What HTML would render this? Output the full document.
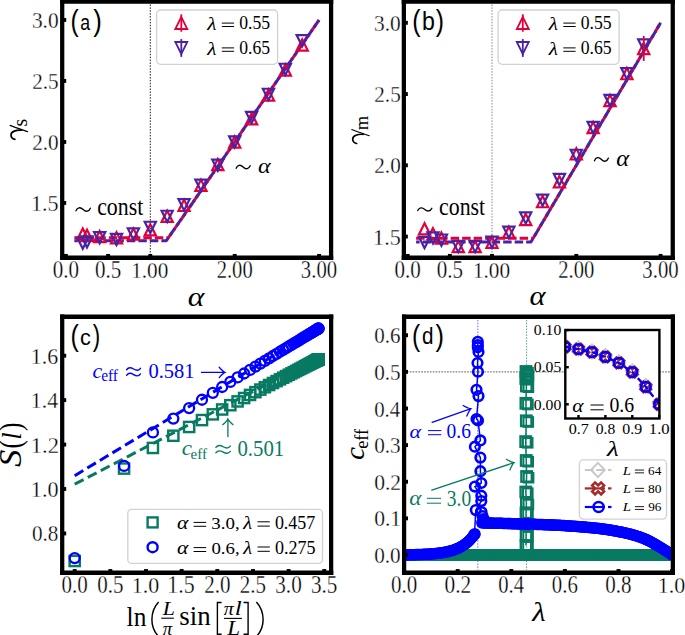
<!DOCTYPE html>
<html><head><meta charset="utf-8"><style>
html,body{margin:0;padding:0;background:#fff;width:685px;height:635px;overflow:hidden}
svg{display:block}
</style></head><body>
<svg width="685" height="635" viewBox="0 0 685 635">
<rect width="685" height="635" fill="#fff"/>
<line x1="150.30" y1="1.55" x2="150.30" y2="257.65" stroke="#000" stroke-width="0.9" stroke-dasharray="1.5,1.4" />
<polyline points="74.34,237.72 168.45,237.72 319.10,19.95" fill="none" stroke="#e3003a" stroke-width="3.0" stroke-dasharray="8.5,3" stroke-linejoin="round" />
<polyline points="74.34,240.77 166.34,240.77 319.10,19.95" fill="none" stroke="#4a22a5" stroke-width="3.0" stroke-dasharray="8.5,3" stroke-linejoin="round" stroke-dashoffset="5"/>
<polygon points="82.78,228.46 77.18,239.66 88.38,239.66" fill="none" stroke="#e3003a" stroke-width="2.2"/>
<polygon points="87.00,229.68 81.40,240.88 92.60,240.88" fill="none" stroke="#e3003a" stroke-width="2.2"/>
<polygon points="99.66,230.90 94.06,242.10 105.26,242.10" fill="none" stroke="#e3003a" stroke-width="2.2"/>
<polygon points="116.54,232.12 110.94,243.32 122.14,243.32" fill="none" stroke="#e3003a" stroke-width="2.2"/>
<polygon points="133.42,228.46 127.82,239.66 139.02,239.66" fill="none" stroke="#e3003a" stroke-width="2.2"/>
<polygon points="150.30,224.19 144.70,235.39 155.90,235.39" fill="none" stroke="#e3003a" stroke-width="2.2"/>
<polygon points="167.18,210.77 161.58,221.97 172.78,221.97" fill="none" stroke="#e3003a" stroke-width="2.2"/>
<polygon points="184.06,199.79 178.46,210.99 189.66,210.99" fill="none" stroke="#e3003a" stroke-width="2.2"/>
<polygon points="200.94,179.66 195.34,190.86 206.54,190.86" fill="none" stroke="#e3003a" stroke-width="2.2"/>
<polygon points="217.82,158.92 212.22,170.12 223.42,170.12" fill="none" stroke="#e3003a" stroke-width="2.2"/>
<polygon points="234.70,136.35 229.10,147.55 240.30,147.55" fill="none" stroke="#e3003a" stroke-width="2.2"/>
<polygon points="251.58,113.17 245.98,124.37 257.18,124.37" fill="none" stroke="#e3003a" stroke-width="2.2"/>
<polygon points="268.46,89.38 262.86,100.58 274.06,100.58" fill="none" stroke="#e3003a" stroke-width="2.2"/>
<polygon points="285.34,64.37 279.74,75.57 290.94,75.57" fill="none" stroke="#e3003a" stroke-width="2.2"/>
<polygon points="302.22,39.36 296.62,50.56 307.82,50.56" fill="none" stroke="#e3003a" stroke-width="2.2"/>
<polygon points="82.78,248.81 77.18,237.61 88.38,237.61" fill="none" stroke="#4a22a5" stroke-width="2.2"/>
<polygon points="87.00,247.59 81.40,236.39 92.60,236.39" fill="none" stroke="#4a22a5" stroke-width="2.2"/>
<polygon points="99.66,243.32 94.06,232.12 105.26,232.12" fill="none" stroke="#4a22a5" stroke-width="2.2"/>
<polygon points="116.54,245.15 110.94,233.95 122.14,233.95" fill="none" stroke="#4a22a5" stroke-width="2.2"/>
<polygon points="133.42,239.66 127.82,228.46 139.02,228.46" fill="none" stroke="#4a22a5" stroke-width="2.2"/>
<polygon points="150.30,232.95 144.70,221.75 155.90,221.75" fill="none" stroke="#4a22a5" stroke-width="2.2"/>
<polygon points="167.18,221.97 161.58,210.77 172.78,210.77" fill="none" stroke="#4a22a5" stroke-width="2.2"/>
<polygon points="184.06,210.38 178.46,199.18 189.66,199.18" fill="none" stroke="#4a22a5" stroke-width="2.2"/>
<polygon points="200.94,190.86 195.34,179.66 206.54,179.66" fill="none" stroke="#4a22a5" stroke-width="2.2"/>
<polygon points="217.82,170.73 212.22,159.53 223.42,159.53" fill="none" stroke="#4a22a5" stroke-width="2.2"/>
<polygon points="234.70,147.55 229.10,136.35 240.30,136.35" fill="none" stroke="#4a22a5" stroke-width="2.2"/>
<polygon points="251.58,123.15 245.98,111.95 257.18,111.95" fill="none" stroke="#4a22a5" stroke-width="2.2"/>
<polygon points="268.46,99.97 262.86,88.77 274.06,88.77" fill="none" stroke="#4a22a5" stroke-width="2.2"/>
<polygon points="285.34,74.96 279.74,63.76 290.94,63.76" fill="none" stroke="#4a22a5" stroke-width="2.2"/>
<polygon points="302.22,46.29 296.62,35.09 307.82,35.09" fill="none" stroke="#4a22a5" stroke-width="2.2"/>
<path d="M60.08,1.55 H333.23 M60.08,257.65 H333.23" stroke="#000" stroke-width="4.55" fill="none"/>
<path d="M62.20,-0.72 V259.92 M331.10,-0.72 V259.92" stroke="#000" stroke-width="4.25" fill="none"/>
<line x1="62.20" y1="202.95" x2="66.20" y2="202.95" stroke="#000" stroke-width="3.9" />
<line x1="62.20" y1="141.95" x2="66.20" y2="141.95" stroke="#000" stroke-width="3.9" />
<line x1="62.20" y1="80.95" x2="66.20" y2="80.95" stroke="#000" stroke-width="3.9" />
<line x1="62.20" y1="19.95" x2="66.20" y2="19.95" stroke="#000" stroke-width="3.9" />
<line x1="65.90" y1="257.65" x2="65.90" y2="253.95" stroke="#000" stroke-width="3.9" />
<line x1="108.10" y1="257.65" x2="108.10" y2="253.95" stroke="#000" stroke-width="3.9" />
<line x1="150.30" y1="257.65" x2="150.30" y2="253.95" stroke="#000" stroke-width="3.9" />
<line x1="234.70" y1="257.65" x2="234.70" y2="253.95" stroke="#000" stroke-width="3.9" />
<line x1="319.10" y1="257.65" x2="319.10" y2="253.95" stroke="#000" stroke-width="3.9" />
<text transform="translate(31.01 211.22) scale(0.9449 1)" font-family="'Liberation Serif', serif" font-size="23.43" fill="#000" style="" stroke="#fff" stroke-width="0.3">1.5</text>
<text transform="translate(32.15 149.98) scale(0.9046 1)" font-family="'Liberation Serif', serif" font-size="23.43" fill="#000" style="" stroke="#fff" stroke-width="0.3">2.0</text>
<text transform="translate(32.15 89.21) scale(0.8911 1)" font-family="'Liberation Serif', serif" font-size="23.79" fill="#000" style="" stroke="#fff" stroke-width="0.3">2.5</text>
<text transform="translate(31.93 27.98) scale(0.9124 1)" font-family="'Liberation Serif', serif" font-size="23.43" fill="#000" style="" stroke="#fff" stroke-width="0.3">3.0</text>
<text transform="translate(52.76 277.82) scale(0.8696 1)" font-family="'Liberation Serif', serif" font-size="24.18" fill="#000" style="" stroke="#fff" stroke-width="0.3">0.0</text>
<text transform="translate(94.96 277.82) scale(0.8696 1)" font-family="'Liberation Serif', serif" font-size="24.18" fill="#000" style="" stroke="#fff" stroke-width="0.3">0.5</text>
<text transform="translate(131.19 277.82) scale(0.8913 1)" font-family="'Liberation Serif', serif" font-size="23.82" fill="#000" style="" stroke="#fff" stroke-width="0.3">1.00</text>
<text transform="translate(216.68 277.82) scale(0.8519 1)" font-family="'Liberation Serif', serif" font-size="24.18" fill="#000" style="" stroke="#fff" stroke-width="0.3">2.00</text>
<text transform="translate(300.86 277.82) scale(0.8571 1)" font-family="'Liberation Serif', serif" font-size="24.18" fill="#000" style="" stroke="#fff" stroke-width="0.3">3.00</text>
<rect x="156.60" y="10.00" width="121.00" height="54.30" rx="4" ry="4" fill="#fff" fill-opacity="0.85" stroke="#d2d2d2" stroke-width="1.35"/>
<line x1="181.30" y1="14.30" x2="181.30" y2="31.70" stroke="#e3003a" stroke-width="1.8" />
<polygon points="181.30,17.00 175.30,29.00 187.30,29.00" fill="none" stroke="#e3003a" stroke-width="1.8"/>
<line x1="181.30" y1="39.10" x2="181.30" y2="56.90" stroke="#4a22a5" stroke-width="1.8" />
<polygon points="181.30,54.00 175.30,42.00 187.30,42.00" fill="none" stroke="#4a22a5" stroke-width="1.8"/>
<text transform="translate(207.32 29.80) scale(1.1223 1)" font-family="'Liberation Serif', serif" font-size="18.86" fill="#000" style="font-style:italic;" >λ</text>
<line x1="221.80" y1="23.10" x2="234.10" y2="23.10" stroke="#000" stroke-width="1.0" />
<line x1="221.80" y1="26.50" x2="234.10" y2="26.50" stroke="#000" stroke-width="1.0" />
<text transform="translate(239.29 29.34) scale(0.9701 1)" font-family="'Liberation Serif', serif" font-size="18.21" fill="#000" style="" >0.55</text>
<text transform="translate(207.32 54.60) scale(1.1223 1)" font-family="'Liberation Serif', serif" font-size="18.86" fill="#000" style="font-style:italic;" >λ</text>
<line x1="221.80" y1="47.90" x2="234.10" y2="47.90" stroke="#000" stroke-width="1.0" />
<line x1="221.80" y1="51.30" x2="234.10" y2="51.30" stroke="#000" stroke-width="1.0" />
<text transform="translate(239.29 54.14) scale(0.9701 1)" font-family="'Liberation Serif', serif" font-size="18.21" fill="#000" style="" >0.65</text>
<text transform="translate(70.52 30.75) scale(0.8538 1)" font-family="'Liberation Sans', sans-serif" font-size="28.83" fill="#000" style="" >(</text>
<text transform="translate(80.19 29.58) scale(0.7911 1)" font-family="'Liberation Sans', sans-serif" font-size="22.36" fill="#000" style="" >a</text>
<text transform="translate(93.14 30.75) scale(0.8938 1)" font-family="'Liberation Sans', sans-serif" font-size="28.83" fill="#000" style="" >)</text>
<path d="M75.95,210.81 C77.39,207.35 80.27,206.68 83.15,209.50 S88.91,211.65 90.35,208.19" fill="none" stroke="#000" stroke-width="1.3" stroke-linecap="round"/>
<text transform="translate(97.13 215.15) scale(0.8894 1)" font-family="'Liberation Serif', serif" font-size="24.56" fill="#000" style="" >const</text>
<path d="M236.15,168.31 C237.55,164.85 240.35,164.18 243.15,167.00 S248.75,169.15 250.15,165.69" fill="none" stroke="#000" stroke-width="1.3" stroke-linecap="round"/>
<text transform="translate(257.98 172.79) scale(1.1239 1)" font-family="'Liberation Serif', serif" font-size="21.46" fill="#000" style="font-style:italic;" >α</text>
<text transform="translate(187.85 305.52) scale(1.1294 1)" font-family="'Liberation Serif', serif" font-size="28.12" fill="#000" style="font-style:italic;" >α</text>
<path d="M10.10,125.40 C15.00,127.30 21.00,129.60 27.50,131.60" fill="none" stroke="#000" stroke-width="1.15" stroke-linecap="round"/>
<path d="M21.50,130.20 C16.00,129.90 11.20,131.50 11.00,134.80 C10.90,137.20 12.80,138.90 14.90,139.40" fill="none" stroke="#000" stroke-width="1.7" stroke-linecap="round"/>
<text transform="translate(26.90 126.59) rotate(-90) scale(0.9839 1)" font-family="'Liberation Serif', serif" font-size="20.00" fill="#000" style="" >s</text>
<line x1="492.00" y1="1.55" x2="492.00" y2="257.65" stroke="#7a7a7a" stroke-width="0.9" stroke-dasharray="1.5,1.4" />
<polyline points="416.13,238.26 533.14,238.26 660.60,22.80" fill="none" stroke="#e3003a" stroke-width="3.0" stroke-dasharray="8.5,3" stroke-linejoin="round" />
<polyline points="416.13,241.97 530.95,241.97 660.60,22.80" fill="none" stroke="#4a22a5" stroke-width="3.0" stroke-dasharray="8.5,3" stroke-linejoin="round" stroke-dashoffset="5"/>
<polygon points="424.56,223.26 418.96,234.46 430.16,234.46" fill="none" stroke="#e3003a" stroke-width="2.2"/>
<polygon points="432.99,228.10 427.39,239.30 438.59,239.30" fill="none" stroke="#e3003a" stroke-width="2.2"/>
<polygon points="441.42,232.38 435.82,243.58 447.02,243.58" fill="none" stroke="#e3003a" stroke-width="2.2"/>
<polygon points="458.28,240.93 452.68,252.13 463.88,252.13" fill="none" stroke="#e3003a" stroke-width="2.2"/>
<polygon points="475.14,240.93 469.54,252.13 480.74,252.13" fill="none" stroke="#e3003a" stroke-width="2.2"/>
<polygon points="492.00,236.65 486.40,247.85 497.60,247.85" fill="none" stroke="#e3003a" stroke-width="2.2"/>
<polygon points="508.86,226.68 503.26,237.88 514.46,237.88" fill="none" stroke="#e3003a" stroke-width="2.2"/>
<polygon points="525.72,213.85 520.12,225.05 531.32,225.05" fill="none" stroke="#e3003a" stroke-width="2.2"/>
<polygon points="542.58,196.04 536.98,207.24 548.18,207.24" fill="none" stroke="#e3003a" stroke-width="2.2"/>
<polygon points="559.44,176.09 553.84,187.29 565.04,187.29" fill="none" stroke="#e3003a" stroke-width="2.2"/>
<polygon points="576.30,148.30 570.70,159.50 581.90,159.50" fill="none" stroke="#e3003a" stroke-width="2.2"/>
<polygon points="593.16,121.94 587.56,133.14 598.76,133.14" fill="none" stroke="#e3003a" stroke-width="2.2"/>
<polygon points="610.02,94.86 604.42,106.06 615.62,106.06" fill="none" stroke="#e3003a" stroke-width="2.2"/>
<polygon points="626.88,68.07 621.28,79.27 632.48,79.27" fill="none" stroke="#e3003a" stroke-width="2.2"/>
<polygon points="643.74,42.85 638.14,54.05 649.34,54.05" fill="none" stroke="#e3003a" stroke-width="2.2"/>
<polygon points="424.56,248.14 418.96,236.94 430.16,236.94" fill="none" stroke="#4a22a5" stroke-width="2.2"/>
<polygon points="432.99,243.58 427.39,232.38 438.59,232.38" fill="none" stroke="#4a22a5" stroke-width="2.2"/>
<polygon points="441.42,245.71 435.82,234.51 447.02,234.51" fill="none" stroke="#4a22a5" stroke-width="2.2"/>
<polygon points="458.28,252.13 452.68,240.93 463.88,240.93" fill="none" stroke="#4a22a5" stroke-width="2.2"/>
<polygon points="475.14,252.13 469.54,240.93 480.74,240.93" fill="none" stroke="#4a22a5" stroke-width="2.2"/>
<polygon points="492.00,247.85 486.40,236.65 497.60,236.65" fill="none" stroke="#4a22a5" stroke-width="2.2"/>
<polygon points="508.86,237.88 503.26,226.68 514.46,226.68" fill="none" stroke="#4a22a5" stroke-width="2.2"/>
<polygon points="525.72,223.63 520.12,212.43 531.32,212.43" fill="none" stroke="#4a22a5" stroke-width="2.2"/>
<polygon points="542.58,205.81 536.98,194.61 548.18,194.61" fill="none" stroke="#4a22a5" stroke-width="2.2"/>
<polygon points="559.44,185.15 553.84,173.95 565.04,173.95" fill="none" stroke="#4a22a5" stroke-width="2.2"/>
<polygon points="576.30,160.93 570.70,149.73 581.90,149.73" fill="none" stroke="#4a22a5" stroke-width="2.2"/>
<polygon points="593.16,133.14 587.56,121.94 598.76,121.94" fill="none" stroke="#4a22a5" stroke-width="2.2"/>
<polygon points="610.02,106.06 604.42,94.86 615.62,94.86" fill="none" stroke="#4a22a5" stroke-width="2.2"/>
<polygon points="626.88,79.27 621.28,68.07 632.48,68.07" fill="none" stroke="#4a22a5" stroke-width="2.2"/>
<polygon points="643.74,50.49 638.14,39.29 649.34,39.29" fill="none" stroke="#4a22a5" stroke-width="2.2"/>
<path d="M401.73,1.55 H674.88 M401.73,257.65 H674.88" stroke="#000" stroke-width="4.55" fill="none"/>
<path d="M403.85,-0.72 V259.92 M672.75,-0.72 V259.92" stroke="#000" stroke-width="4.25" fill="none"/>
<line x1="403.85" y1="236.55" x2="407.85" y2="236.55" stroke="#000" stroke-width="3.9" />
<line x1="403.85" y1="165.30" x2="407.85" y2="165.30" stroke="#000" stroke-width="3.9" />
<line x1="403.85" y1="94.05" x2="407.85" y2="94.05" stroke="#000" stroke-width="3.9" />
<line x1="403.85" y1="22.80" x2="407.85" y2="22.80" stroke="#000" stroke-width="3.9" />
<line x1="407.70" y1="257.65" x2="407.70" y2="253.95" stroke="#000" stroke-width="3.9" />
<line x1="449.85" y1="257.65" x2="449.85" y2="253.95" stroke="#000" stroke-width="3.9" />
<line x1="492.00" y1="257.65" x2="492.00" y2="253.95" stroke="#000" stroke-width="3.9" />
<line x1="576.30" y1="257.65" x2="576.30" y2="253.95" stroke="#000" stroke-width="3.9" />
<line x1="660.60" y1="257.65" x2="660.60" y2="253.95" stroke="#000" stroke-width="3.9" />
<line x1="643.74" y1="35.95" x2="643.74" y2="60.95" stroke="#e3003a" stroke-width="1.8" />
<text transform="translate(373.11 244.82) scale(0.9449 1)" font-family="'Liberation Serif', serif" font-size="23.43" fill="#000" style="" stroke="#fff" stroke-width="0.3">1.5</text>
<text transform="translate(374.25 173.33) scale(0.9046 1)" font-family="'Liberation Serif', serif" font-size="23.43" fill="#000" style="" stroke="#fff" stroke-width="0.3">2.0</text>
<text transform="translate(374.25 102.31) scale(0.8911 1)" font-family="'Liberation Serif', serif" font-size="23.79" fill="#000" style="" stroke="#fff" stroke-width="0.3">2.5</text>
<text transform="translate(374.03 30.83) scale(0.9124 1)" font-family="'Liberation Serif', serif" font-size="23.43" fill="#000" style="" stroke="#fff" stroke-width="0.3">3.0</text>
<text transform="translate(394.56 277.82) scale(0.8696 1)" font-family="'Liberation Serif', serif" font-size="24.18" fill="#000" style="" stroke="#fff" stroke-width="0.3">0.0</text>
<text transform="translate(436.71 277.82) scale(0.8696 1)" font-family="'Liberation Serif', serif" font-size="24.18" fill="#000" style="" stroke="#fff" stroke-width="0.3">0.5</text>
<text transform="translate(472.89 277.82) scale(0.8913 1)" font-family="'Liberation Serif', serif" font-size="23.82" fill="#000" style="" stroke="#fff" stroke-width="0.3">1.00</text>
<text transform="translate(558.28 277.82) scale(0.8519 1)" font-family="'Liberation Serif', serif" font-size="24.18" fill="#000" style="" stroke="#fff" stroke-width="0.3">2.00</text>
<text transform="translate(642.36 277.82) scale(0.8571 1)" font-family="'Liberation Serif', serif" font-size="24.18" fill="#000" style="" stroke="#fff" stroke-width="0.3">3.00</text>
<rect x="498.10" y="10.00" width="121.00" height="54.30" rx="4" ry="4" fill="#fff" fill-opacity="0.85" stroke="#d2d2d2" stroke-width="1.35"/>
<line x1="522.80" y1="14.30" x2="522.80" y2="31.70" stroke="#e3003a" stroke-width="1.8" />
<polygon points="522.80,17.00 516.80,29.00 528.80,29.00" fill="none" stroke="#e3003a" stroke-width="1.8"/>
<line x1="522.80" y1="39.10" x2="522.80" y2="56.90" stroke="#4a22a5" stroke-width="1.8" />
<polygon points="522.80,54.00 516.80,42.00 528.80,42.00" fill="none" stroke="#4a22a5" stroke-width="1.8"/>
<text transform="translate(548.82 29.80) scale(1.1223 1)" font-family="'Liberation Serif', serif" font-size="18.86" fill="#000" style="font-style:italic;" >λ</text>
<line x1="563.30" y1="23.10" x2="575.60" y2="23.10" stroke="#000" stroke-width="1.0" />
<line x1="563.30" y1="26.50" x2="575.60" y2="26.50" stroke="#000" stroke-width="1.0" />
<text transform="translate(580.79 29.34) scale(0.9701 1)" font-family="'Liberation Serif', serif" font-size="18.21" fill="#000" style="" >0.55</text>
<text transform="translate(548.82 54.60) scale(1.1223 1)" font-family="'Liberation Serif', serif" font-size="18.86" fill="#000" style="font-style:italic;" >λ</text>
<line x1="563.30" y1="47.90" x2="575.60" y2="47.90" stroke="#000" stroke-width="1.0" />
<line x1="563.30" y1="51.30" x2="575.60" y2="51.30" stroke="#000" stroke-width="1.0" />
<text transform="translate(580.79 54.14) scale(0.9701 1)" font-family="'Liberation Serif', serif" font-size="18.21" fill="#000" style="" >0.65</text>
<text transform="translate(412.30 30.75) scale(0.8672 1)" font-family="'Liberation Sans', sans-serif" font-size="28.83" fill="#000" style="" >(</text>
<text transform="translate(421.88 29.80) scale(0.9050 1)" font-family="'Liberation Sans', sans-serif" font-size="25.62" fill="#000" style="" >b</text>
<text transform="translate(435.75 30.75) scale(0.8538 1)" font-family="'Liberation Sans', sans-serif" font-size="28.83" fill="#000" style="" >)</text>
<path d="M417.75,210.57 C419.16,207.45 421.98,206.83 424.80,209.40 S430.44,211.35 431.85,208.23" fill="none" stroke="#000" stroke-width="1.3" stroke-linecap="round"/>
<text transform="translate(439.03 214.85) scale(0.8894 1)" font-family="'Liberation Serif', serif" font-size="24.56" fill="#000" style="" >const</text>
<path d="M594.45,160.80 C595.85,157.25 598.65,156.57 601.45,159.45 S607.05,161.65 608.45,158.10" fill="none" stroke="#000" stroke-width="1.3" stroke-linecap="round"/>
<text transform="translate(616.36 165.78) scale(1.1099 1)" font-family="'Liberation Serif', serif" font-size="22.08" fill="#000" style="font-style:italic;" >α</text>
<text transform="translate(529.38 304.63) scale(1.1382 1)" font-family="'Liberation Serif', serif" font-size="26.87" fill="#000" style="font-style:italic;" >α</text>
<path d="M351.80,129.50 C356.70,131.40 362.70,133.70 369.20,135.70" fill="none" stroke="#000" stroke-width="1.15" stroke-linecap="round"/>
<path d="M363.20,134.30 C357.70,134.00 352.90,135.60 352.70,138.90 C352.60,141.30 354.50,143.00 356.60,143.50" fill="none" stroke="#000" stroke-width="1.7" stroke-linecap="round"/>
<text transform="translate(368.00 130.17) rotate(-90) scale(0.9960 1)" font-family="'Liberation Serif', serif" font-size="18.72" fill="#000" style="" >m</text>
<line x1="74.70" y1="475.67" x2="319.26" y2="328.07" stroke="#0000ff" stroke-width="3.0" stroke-dasharray="10,4.7" />
<line x1="74.70" y1="484.20" x2="319.26" y2="356.92" stroke="#087a62" stroke-width="3.0" stroke-dasharray="10,4.7" />
<rect x="69.59" y="555.89" width="10.20" height="10.20" fill="none" stroke="#087a62" stroke-width="2.4"/>
<rect x="118.97" y="463.46" width="10.20" height="10.20" fill="none" stroke="#087a62" stroke-width="2.4"/>
<rect x="147.82" y="442.84" width="10.20" height="10.20" fill="none" stroke="#087a62" stroke-width="2.4"/>
<rect x="168.24" y="430.66" width="10.20" height="10.20" fill="none" stroke="#087a62" stroke-width="2.4"/>
<rect x="184.03" y="421.87" width="10.20" height="10.20" fill="none" stroke="#087a62" stroke-width="2.4"/>
<rect x="196.89" y="414.97" width="10.20" height="10.20" fill="none" stroke="#087a62" stroke-width="2.4"/>
<rect x="207.72" y="409.26" width="10.20" height="10.20" fill="none" stroke="#087a62" stroke-width="2.4"/>
<rect x="217.05" y="404.38" width="10.20" height="10.20" fill="none" stroke="#087a62" stroke-width="2.4"/>
<rect x="225.23" y="400.11" width="10.20" height="10.20" fill="none" stroke="#087a62" stroke-width="2.4"/>
<rect x="232.50" y="396.32" width="10.20" height="10.20" fill="none" stroke="#087a62" stroke-width="2.4"/>
<rect x="239.02" y="392.93" width="10.20" height="10.20" fill="none" stroke="#087a62" stroke-width="2.4"/>
<rect x="244.93" y="389.85" width="10.20" height="10.20" fill="none" stroke="#087a62" stroke-width="2.4"/>
<rect x="250.32" y="387.05" width="10.20" height="10.20" fill="none" stroke="#087a62" stroke-width="2.4"/>
<rect x="255.25" y="384.48" width="10.20" height="10.20" fill="none" stroke="#087a62" stroke-width="2.4"/>
<rect x="259.80" y="382.11" width="10.20" height="10.20" fill="none" stroke="#087a62" stroke-width="2.4"/>
<rect x="264.00" y="379.93" width="10.20" height="10.20" fill="none" stroke="#087a62" stroke-width="2.4"/>
<rect x="267.89" y="377.90" width="10.20" height="10.20" fill="none" stroke="#087a62" stroke-width="2.4"/>
<rect x="271.51" y="376.02" width="10.20" height="10.20" fill="none" stroke="#087a62" stroke-width="2.4"/>
<rect x="274.88" y="374.26" width="10.20" height="10.20" fill="none" stroke="#087a62" stroke-width="2.4"/>
<rect x="278.03" y="372.62" width="10.20" height="10.20" fill="none" stroke="#087a62" stroke-width="2.4"/>
<rect x="280.97" y="371.09" width="10.20" height="10.20" fill="none" stroke="#087a62" stroke-width="2.4"/>
<rect x="283.72" y="369.66" width="10.20" height="10.20" fill="none" stroke="#087a62" stroke-width="2.4"/>
<rect x="286.30" y="368.32" width="10.20" height="10.20" fill="none" stroke="#087a62" stroke-width="2.4"/>
<rect x="288.71" y="367.07" width="10.20" height="10.20" fill="none" stroke="#087a62" stroke-width="2.4"/>
<rect x="290.97" y="365.89" width="10.20" height="10.20" fill="none" stroke="#087a62" stroke-width="2.4"/>
<rect x="293.08" y="364.79" width="10.20" height="10.20" fill="none" stroke="#087a62" stroke-width="2.4"/>
<rect x="295.06" y="363.76" width="10.20" height="10.20" fill="none" stroke="#087a62" stroke-width="2.4"/>
<rect x="296.91" y="362.80" width="10.20" height="10.20" fill="none" stroke="#087a62" stroke-width="2.4"/>
<rect x="298.64" y="361.90" width="10.20" height="10.20" fill="none" stroke="#087a62" stroke-width="2.4"/>
<rect x="300.26" y="361.06" width="10.20" height="10.20" fill="none" stroke="#087a62" stroke-width="2.4"/>
<rect x="301.76" y="360.27" width="10.20" height="10.20" fill="none" stroke="#087a62" stroke-width="2.4"/>
<rect x="303.16" y="359.54" width="10.20" height="10.20" fill="none" stroke="#087a62" stroke-width="2.4"/>
<rect x="304.46" y="358.87" width="10.20" height="10.20" fill="none" stroke="#087a62" stroke-width="2.4"/>
<rect x="305.66" y="358.25" width="10.20" height="10.20" fill="none" stroke="#087a62" stroke-width="2.4"/>
<rect x="306.76" y="357.67" width="10.20" height="10.20" fill="none" stroke="#087a62" stroke-width="2.4"/>
<rect x="307.77" y="357.15" width="10.20" height="10.20" fill="none" stroke="#087a62" stroke-width="2.4"/>
<rect x="308.70" y="356.67" width="10.20" height="10.20" fill="none" stroke="#087a62" stroke-width="2.4"/>
<rect x="309.53" y="356.23" width="10.20" height="10.20" fill="none" stroke="#087a62" stroke-width="2.4"/>
<rect x="310.28" y="355.84" width="10.20" height="10.20" fill="none" stroke="#087a62" stroke-width="2.4"/>
<rect x="310.95" y="355.49" width="10.20" height="10.20" fill="none" stroke="#087a62" stroke-width="2.4"/>
<rect x="311.53" y="355.19" width="10.20" height="10.20" fill="none" stroke="#087a62" stroke-width="2.4"/>
<rect x="312.04" y="354.93" width="10.20" height="10.20" fill="none" stroke="#087a62" stroke-width="2.4"/>
<rect x="312.46" y="354.71" width="10.20" height="10.20" fill="none" stroke="#087a62" stroke-width="2.4"/>
<rect x="312.81" y="354.53" width="10.20" height="10.20" fill="none" stroke="#087a62" stroke-width="2.4"/>
<rect x="313.07" y="354.39" width="10.20" height="10.20" fill="none" stroke="#087a62" stroke-width="2.4"/>
<rect x="313.27" y="354.29" width="10.20" height="10.20" fill="none" stroke="#087a62" stroke-width="2.4"/>
<rect x="313.38" y="354.23" width="10.20" height="10.20" fill="none" stroke="#087a62" stroke-width="2.4"/>
<rect x="313.42" y="354.21" width="10.20" height="10.20" fill="none" stroke="#087a62" stroke-width="2.4"/>
<circle cx="74.69" cy="558.10" r="5.0" fill="none" stroke="#0000ff" stroke-width="2.3"/>
<circle cx="124.07" cy="465.89" r="5.0" fill="none" stroke="#0000ff" stroke-width="2.3"/>
<circle cx="152.92" cy="432.46" r="5.0" fill="none" stroke="#0000ff" stroke-width="2.3"/>
<circle cx="173.34" cy="418.56" r="5.0" fill="none" stroke="#0000ff" stroke-width="2.3"/>
<circle cx="189.13" cy="408.07" r="5.0" fill="none" stroke="#0000ff" stroke-width="2.3"/>
<circle cx="201.99" cy="399.73" r="5.0" fill="none" stroke="#0000ff" stroke-width="2.3"/>
<circle cx="212.82" cy="392.85" r="5.0" fill="none" stroke="#0000ff" stroke-width="2.3"/>
<circle cx="222.15" cy="387.00" r="5.0" fill="none" stroke="#0000ff" stroke-width="2.3"/>
<circle cx="230.33" cy="381.94" r="5.0" fill="none" stroke="#0000ff" stroke-width="2.3"/>
<circle cx="237.60" cy="377.47" r="5.0" fill="none" stroke="#0000ff" stroke-width="2.3"/>
<circle cx="244.12" cy="373.49" r="5.0" fill="none" stroke="#0000ff" stroke-width="2.3"/>
<circle cx="250.03" cy="369.89" r="5.0" fill="none" stroke="#0000ff" stroke-width="2.3"/>
<circle cx="255.42" cy="366.62" r="5.0" fill="none" stroke="#0000ff" stroke-width="2.3"/>
<circle cx="260.35" cy="363.63" r="5.0" fill="none" stroke="#0000ff" stroke-width="2.3"/>
<circle cx="264.90" cy="360.89" r="5.0" fill="none" stroke="#0000ff" stroke-width="2.3"/>
<circle cx="269.10" cy="358.35" r="5.0" fill="none" stroke="#0000ff" stroke-width="2.3"/>
<circle cx="272.99" cy="355.99" r="5.0" fill="none" stroke="#0000ff" stroke-width="2.3"/>
<circle cx="276.61" cy="353.81" r="5.0" fill="none" stroke="#0000ff" stroke-width="2.3"/>
<circle cx="279.98" cy="351.77" r="5.0" fill="none" stroke="#0000ff" stroke-width="2.3"/>
<circle cx="283.13" cy="349.87" r="5.0" fill="none" stroke="#0000ff" stroke-width="2.3"/>
<circle cx="286.07" cy="348.10" r="5.0" fill="none" stroke="#0000ff" stroke-width="2.3"/>
<circle cx="288.82" cy="346.44" r="5.0" fill="none" stroke="#0000ff" stroke-width="2.3"/>
<circle cx="291.40" cy="344.88" r="5.0" fill="none" stroke="#0000ff" stroke-width="2.3"/>
<circle cx="293.81" cy="343.43" r="5.0" fill="none" stroke="#0000ff" stroke-width="2.3"/>
<circle cx="296.07" cy="342.06" r="5.0" fill="none" stroke="#0000ff" stroke-width="2.3"/>
<circle cx="298.18" cy="340.79" r="5.0" fill="none" stroke="#0000ff" stroke-width="2.3"/>
<circle cx="300.16" cy="339.59" r="5.0" fill="none" stroke="#0000ff" stroke-width="2.3"/>
<circle cx="302.01" cy="338.47" r="5.0" fill="none" stroke="#0000ff" stroke-width="2.3"/>
<circle cx="303.74" cy="337.43" r="5.0" fill="none" stroke="#0000ff" stroke-width="2.3"/>
<circle cx="305.36" cy="336.45" r="5.0" fill="none" stroke="#0000ff" stroke-width="2.3"/>
<circle cx="306.86" cy="335.55" r="5.0" fill="none" stroke="#0000ff" stroke-width="2.3"/>
<circle cx="308.26" cy="334.70" r="5.0" fill="none" stroke="#0000ff" stroke-width="2.3"/>
<circle cx="309.56" cy="333.92" r="5.0" fill="none" stroke="#0000ff" stroke-width="2.3"/>
<circle cx="310.76" cy="333.20" r="5.0" fill="none" stroke="#0000ff" stroke-width="2.3"/>
<circle cx="311.86" cy="332.53" r="5.0" fill="none" stroke="#0000ff" stroke-width="2.3"/>
<circle cx="312.87" cy="331.92" r="5.0" fill="none" stroke="#0000ff" stroke-width="2.3"/>
<circle cx="313.80" cy="331.36" r="5.0" fill="none" stroke="#0000ff" stroke-width="2.3"/>
<circle cx="314.63" cy="330.86" r="5.0" fill="none" stroke="#0000ff" stroke-width="2.3"/>
<circle cx="315.38" cy="330.41" r="5.0" fill="none" stroke="#0000ff" stroke-width="2.3"/>
<circle cx="316.05" cy="330.00" r="5.0" fill="none" stroke="#0000ff" stroke-width="2.3"/>
<circle cx="316.63" cy="329.65" r="5.0" fill="none" stroke="#0000ff" stroke-width="2.3"/>
<circle cx="317.14" cy="329.35" r="5.0" fill="none" stroke="#0000ff" stroke-width="2.3"/>
<circle cx="317.56" cy="329.09" r="5.0" fill="none" stroke="#0000ff" stroke-width="2.3"/>
<circle cx="317.91" cy="328.88" r="5.0" fill="none" stroke="#0000ff" stroke-width="2.3"/>
<circle cx="318.17" cy="328.72" r="5.0" fill="none" stroke="#0000ff" stroke-width="2.3"/>
<circle cx="318.37" cy="328.60" r="5.0" fill="none" stroke="#0000ff" stroke-width="2.3"/>
<circle cx="318.48" cy="328.54" r="5.0" fill="none" stroke="#0000ff" stroke-width="2.3"/>
<circle cx="318.52" cy="328.51" r="5.0" fill="none" stroke="#0000ff" stroke-width="2.3"/>
<path d="M60.08,316.75 H333.27 M60.08,572.75 H333.27" stroke="#000" stroke-width="4.55" fill="none"/>
<path d="M62.20,314.48 V575.02 M331.15,314.48 V575.02" stroke="#000" stroke-width="4.25" fill="none"/>
<line x1="62.20" y1="533.44" x2="66.20" y2="533.44" stroke="#000" stroke-width="3.9" />
<line x1="62.20" y1="489.00" x2="66.20" y2="489.00" stroke="#000" stroke-width="3.9" />
<line x1="62.20" y1="444.56" x2="66.20" y2="444.56" stroke="#000" stroke-width="3.9" />
<line x1="62.20" y1="400.12" x2="66.20" y2="400.12" stroke="#000" stroke-width="3.9" />
<line x1="62.20" y1="355.68" x2="66.20" y2="355.68" stroke="#000" stroke-width="3.9" />
<line x1="74.70" y1="572.75" x2="74.70" y2="569.05" stroke="#000" stroke-width="3.9" />
<line x1="110.35" y1="572.75" x2="110.35" y2="569.05" stroke="#000" stroke-width="3.9" />
<line x1="146.00" y1="572.75" x2="146.00" y2="569.05" stroke="#000" stroke-width="3.9" />
<line x1="181.65" y1="572.75" x2="181.65" y2="569.05" stroke="#000" stroke-width="3.9" />
<line x1="217.30" y1="572.75" x2="217.30" y2="569.05" stroke="#000" stroke-width="3.9" />
<line x1="252.95" y1="572.75" x2="252.95" y2="569.05" stroke="#000" stroke-width="3.9" />
<line x1="288.60" y1="572.75" x2="288.60" y2="569.05" stroke="#000" stroke-width="3.9" />
<line x1="324.25" y1="572.75" x2="324.25" y2="569.05" stroke="#000" stroke-width="3.9" />
<text transform="translate(31.95 541.47) scale(0.9046 1)" font-family="'Liberation Serif', serif" font-size="23.43" fill="#000" style="" stroke="#fff" stroke-width="0.3">0.8</text>
<text transform="translate(30.81 497.04) scale(0.9591 1)" font-family="'Liberation Serif', serif" font-size="23.09" fill="#000" style="" stroke="#fff" stroke-width="0.3">1.0</text>
<text transform="translate(30.77 452.83) scale(0.9621 1)" font-family="'Liberation Serif', serif" font-size="23.43" fill="#000" style="" stroke="#fff" stroke-width="0.3">1.2</text>
<text transform="translate(30.84 408.39) scale(0.9284 1)" font-family="'Liberation Serif', serif" font-size="23.43" fill="#000" style="" stroke="#fff" stroke-width="0.3">1.4</text>
<text transform="translate(30.82 363.72) scale(0.9506 1)" font-family="'Liberation Serif', serif" font-size="23.09" fill="#000" style="" stroke="#fff" stroke-width="0.3">1.6</text>
<text transform="translate(61.56 593.01) scale(0.8590 1)" font-family="'Liberation Serif', serif" font-size="24.48" fill="#000" style="" stroke="#fff" stroke-width="0.3">0.0</text>
<text transform="translate(97.21 593.01) scale(0.8590 1)" font-family="'Liberation Serif', serif" font-size="24.48" fill="#000" style="" stroke="#fff" stroke-width="0.3">0.5</text>
<text transform="translate(131.72 593.02) scale(0.9107 1)" font-family="'Liberation Serif', serif" font-size="24.12" fill="#000" style="" stroke="#fff" stroke-width="0.3">1.0</text>
<text transform="translate(167.37 593.26) scale(0.8973 1)" font-family="'Liberation Serif', serif" font-size="24.48" fill="#000" style="" stroke="#fff" stroke-width="0.3">1.5</text>
<text transform="translate(204.16 593.01) scale(0.8590 1)" font-family="'Liberation Serif', serif" font-size="24.48" fill="#000" style="" stroke="#fff" stroke-width="0.3">2.0</text>
<text transform="translate(239.81 593.25) scale(0.8462 1)" font-family="'Liberation Serif', serif" font-size="24.85" fill="#000" style="" stroke="#fff" stroke-width="0.3">2.5</text>
<text transform="translate(275.24 593.01) scale(0.8664 1)" font-family="'Liberation Serif', serif" font-size="24.48" fill="#000" style="" stroke="#fff" stroke-width="0.3">3.0</text>
<text transform="translate(310.89 593.25) scale(0.8534 1)" font-family="'Liberation Serif', serif" font-size="24.85" fill="#000" style="" stroke="#fff" stroke-width="0.3">3.5</text>
<text transform="translate(70.60 345.75) scale(0.8672 1)" font-family="'Liberation Sans', sans-serif" font-size="28.83" fill="#000" style="" >(</text>
<text transform="translate(80.03 344.88) scale(0.9671 1)" font-family="'Liberation Sans', sans-serif" font-size="22.36" fill="#000" style="" >c</text>
<text transform="translate(92.68 345.75) scale(0.7738 1)" font-family="'Liberation Sans', sans-serif" font-size="28.83" fill="#000" style="" >)</text>
<rect x="127.80" y="509.40" width="194.70" height="54.00" rx="4" ry="4" fill="#fff" fill-opacity="0.85" stroke="#d2d2d2" stroke-width="1.35"/>
<rect x="147.60" y="517.40" width="10.00" height="10.00" fill="none" stroke="#087a62" stroke-width="2.4"/>
<circle cx="152.60" cy="547.20" r="5.0" fill="none" stroke="#0000ff" stroke-width="2.4"/>
<text transform="translate(177.05 528.82) scale(1.1765 1)" font-family="'Liberation Serif', serif" font-size="18.33" fill="#000" style="font-style:italic;" >α</text>
<line x1="193.60" y1="522.40" x2="206.20" y2="522.40" stroke="#000" stroke-width="1.0" />
<line x1="193.60" y1="526.30" x2="206.20" y2="526.30" stroke="#000" stroke-width="1.0" />
<text transform="translate(211.25 529.04) scale(1.0660 1)" font-family="'Liberation Serif', serif" font-size="17.75" fill="#000" style="" >3.0,</text>
<text transform="translate(243.31 528.90) scale(1.1192 1)" font-family="'Liberation Serif', serif" font-size="18.29" fill="#000" style="font-style:italic;" >λ</text>
<line x1="257.50" y1="521.80" x2="269.80" y2="521.80" stroke="#000" stroke-width="1.0" />
<line x1="257.50" y1="526.10" x2="269.80" y2="526.10" stroke="#000" stroke-width="1.0" />
<text transform="translate(274.88 528.92) scale(0.9562 1)" font-family="'Liberation Serif', serif" font-size="18.81" fill="#000" style="" >0.457</text>
<text transform="translate(177.05 554.02) scale(1.1765 1)" font-family="'Liberation Serif', serif" font-size="18.33" fill="#000" style="font-style:italic;" >α</text>
<line x1="193.60" y1="547.60" x2="206.20" y2="547.60" stroke="#000" stroke-width="1.0" />
<line x1="193.60" y1="551.50" x2="206.20" y2="551.50" stroke="#000" stroke-width="1.0" />
<text transform="translate(211.45 554.24) scale(1.0584 1)" font-family="'Liberation Serif', serif" font-size="17.75" fill="#000" style="" >0.6,</text>
<text transform="translate(243.31 554.10) scale(1.1192 1)" font-family="'Liberation Serif', serif" font-size="18.29" fill="#000" style="font-style:italic;" >λ</text>
<line x1="257.50" y1="547.00" x2="269.80" y2="547.00" stroke="#000" stroke-width="1.0" />
<line x1="257.50" y1="551.30" x2="269.80" y2="551.30" stroke="#000" stroke-width="1.0" />
<text transform="translate(274.88 554.12) scale(0.9606 1)" font-family="'Liberation Serif', serif" font-size="18.81" fill="#000" style="" >0.275</text>
<text transform="translate(92.45 378.18) scale(0.9943 1)" font-family="'Liberation Serif', serif" font-size="21.88" fill="#0000ff" style="font-style:italic;" >c</text>
<text transform="translate(101.18 381.34) scale(0.9744 1)" font-family="'Liberation Serif', serif" font-size="15.83" fill="#0000ff" style="" >eff</text>
<path d="M126.60,369.73 C127.99,367.70 130.77,367.22 133.55,369.02 S139.11,370.33 140.50,368.30" fill="none" stroke="#0000ff" stroke-width="1.4" stroke-linecap="round"/>
<path d="M126.60,375.30 C127.99,373.27 130.77,372.78 133.55,374.58 S139.11,375.90 140.50,373.87" fill="none" stroke="#0000ff" stroke-width="1.4" stroke-linecap="round"/>
<text transform="translate(148.48 377.58) scale(0.9754 1)" font-family="'Liberation Serif', serif" font-size="21.03" fill="#0000ff" style="" >0.581</text>
<path d="M201.50,372.40 L225.00,372.40 M219.22,377.56 Q223.07,373.22 225.00,372.40 Q223.07,371.57 219.22,367.24" fill="none" stroke="#0000ff" stroke-width="1.3" stroke-linecap="round"/>
<text transform="translate(181.71 455.48) scale(1.0514 1)" font-family="'Liberation Serif', serif" font-size="21.88" fill="#087a62" style="font-style:italic;" >c</text>
<text transform="translate(190.50 458.65) scale(0.9849 1)" font-family="'Liberation Serif', serif" font-size="15.28" fill="#087a62" style="" >eff</text>
<path d="M215.90,447.38 C217.34,445.50 220.22,445.04 223.10,446.73 S228.86,447.96 230.30,446.08" fill="none" stroke="#087a62" stroke-width="1.4" stroke-linecap="round"/>
<path d="M215.90,452.72 C217.34,450.84 220.22,450.37 223.10,452.07 S228.86,453.30 230.30,451.42" fill="none" stroke="#087a62" stroke-width="1.4" stroke-linecap="round"/>
<text transform="translate(237.47 455.55) scale(0.9240 1)" font-family="'Liberation Serif', serif" font-size="22.50" fill="#087a62" style="" >0.501</text>
<path d="M227.90,436.50 L227.90,418.90 M233.06,424.67 Q228.72,420.82 227.90,418.90 Q227.08,420.82 222.74,424.67" fill="none" stroke="#087a62" stroke-width="1.3" stroke-linecap="round"/>
<text transform="translate(21.08 467.05) rotate(-90) scale(1.1118 1)" font-family="'Liberation Serif', serif" font-size="31.19" fill="#000" style="font-style:italic;" >S</text>
<text transform="translate(21.31 448.50) rotate(-90) scale(0.8094 1)" font-family="'Liberation Serif', serif" font-size="30.89" fill="#000" style="" >(</text>
<text transform="translate(20.90 439.82) rotate(-90) scale(0.9474 1)" font-family="'Liberation Serif', serif" font-size="27.97" fill="#000" style="font-style:italic;" >l</text>
<text transform="translate(21.31 431.06) rotate(-90) scale(0.8218 1)" font-family="'Liberation Serif', serif" font-size="30.89" fill="#000" style="" >)</text>
<text transform="translate(126.59 625.80) scale(0.8990 1)" font-family="'Liberation Serif', serif" font-size="28.26" fill="#000" style="" >ln</text>
<path d="M158.6,601.9 C153.9,607 151.9,613 151.9,619.5 C151.9,626 153.9,631.5 158.6,636.5" fill="none" stroke="#000" stroke-width="1.45"/>
<text transform="translate(162.72 614.60) scale(1.1220 1)" font-family="'Liberation Serif', serif" font-size="19.54" fill="#000" style="font-style:italic;" >L</text>
<line x1="161.20" y1="618.20" x2="173.90" y2="618.20" stroke="#000" stroke-width="1.1" />
<text transform="translate(162.81 634.51) scale(1.0169 1)" font-family="'Liberation Serif', serif" font-size="18.51" fill="#000" style="font-style:italic;" >π</text>
<text transform="translate(179.33 625.32) scale(0.9630 1)" font-family="'Liberation Serif', serif" font-size="27.88" fill="#000" style="" >sin</text>
<path d="M221.6,602.5 L217.4,602.5 L217.4,634.2 L221.6,634.2" fill="none" stroke="#000" stroke-width="1.4"/>
<text transform="translate(223.80 614.71) scale(1.0444 1)" font-family="'Liberation Serif', serif" font-size="19.15" fill="#000" style="font-style:italic;" >π</text>
<text transform="translate(234.65 614.90) scale(1.2321 1)" font-family="'Liberation Serif', serif" font-size="20.29" fill="#000" style="font-style:italic;" >l</text>
<line x1="224.00" y1="618.40" x2="241.90" y2="618.40" stroke="#000" stroke-width="1.1" />
<text transform="translate(227.13 635.00) scale(1.0791 1)" font-family="'Liberation Serif', serif" font-size="21.38" fill="#000" style="font-style:italic;" >L</text>
<path d="M243.5,602.5 L248.1,602.5 L248.1,634.2 L243.5,634.2" fill="none" stroke="#000" stroke-width="1.4"/>
<path d="M256.4,601.9 C261.1,607 263.1,613 263.1,619.5 C263.1,626 261.1,631.5 256.4,636.5" fill="none" stroke="#000" stroke-width="1.45"/>
<clipPath id="dc"><rect x="406.1" y="319.1" width="264.6" height="251"/></clipPath>
<g clip-path="url(#dc)">
<line x1="477.80" y1="317.00" x2="477.80" y2="572.20" stroke="#5a5aff" stroke-width="0.9" stroke-dasharray="1.5,1.4" />
<line x1="526.58" y1="317.00" x2="526.58" y2="572.20" stroke="#3a9a88" stroke-width="0.9" stroke-dasharray="1.5,1.4" />
<line x1="404.00" y1="371.90" x2="672.80" y2="371.90" stroke="#808080" stroke-width="1.3" stroke-dasharray="1.7,1.17" />
<rect x="400.64" y="550.20" width="9.60" height="9.60" fill="none" stroke="#087a62" stroke-width="2.4"/>
<rect x="401.98" y="550.20" width="9.60" height="9.60" fill="none" stroke="#087a62" stroke-width="2.4"/>
<rect x="403.32" y="550.20" width="9.60" height="9.60" fill="none" stroke="#087a62" stroke-width="2.4"/>
<rect x="404.66" y="550.20" width="9.60" height="9.60" fill="none" stroke="#087a62" stroke-width="2.4"/>
<rect x="406.00" y="550.20" width="9.60" height="9.60" fill="none" stroke="#087a62" stroke-width="2.4"/>
<rect x="407.34" y="550.20" width="9.60" height="9.60" fill="none" stroke="#087a62" stroke-width="2.4"/>
<rect x="408.68" y="550.20" width="9.60" height="9.60" fill="none" stroke="#087a62" stroke-width="2.4"/>
<rect x="410.02" y="550.20" width="9.60" height="9.60" fill="none" stroke="#087a62" stroke-width="2.4"/>
<rect x="411.36" y="550.20" width="9.60" height="9.60" fill="none" stroke="#087a62" stroke-width="2.4"/>
<rect x="412.70" y="550.20" width="9.60" height="9.60" fill="none" stroke="#087a62" stroke-width="2.4"/>
<rect x="414.04" y="550.20" width="9.60" height="9.60" fill="none" stroke="#087a62" stroke-width="2.4"/>
<rect x="415.38" y="550.20" width="9.60" height="9.60" fill="none" stroke="#087a62" stroke-width="2.4"/>
<rect x="416.72" y="550.20" width="9.60" height="9.60" fill="none" stroke="#087a62" stroke-width="2.4"/>
<rect x="418.06" y="550.20" width="9.60" height="9.60" fill="none" stroke="#087a62" stroke-width="2.4"/>
<rect x="419.40" y="550.20" width="9.60" height="9.60" fill="none" stroke="#087a62" stroke-width="2.4"/>
<rect x="420.74" y="550.20" width="9.60" height="9.60" fill="none" stroke="#087a62" stroke-width="2.4"/>
<rect x="422.08" y="550.20" width="9.60" height="9.60" fill="none" stroke="#087a62" stroke-width="2.4"/>
<rect x="423.42" y="550.20" width="9.60" height="9.60" fill="none" stroke="#087a62" stroke-width="2.4"/>
<rect x="424.76" y="550.20" width="9.60" height="9.60" fill="none" stroke="#087a62" stroke-width="2.4"/>
<rect x="426.10" y="550.20" width="9.60" height="9.60" fill="none" stroke="#087a62" stroke-width="2.4"/>
<rect x="427.44" y="550.20" width="9.60" height="9.60" fill="none" stroke="#087a62" stroke-width="2.4"/>
<rect x="428.78" y="550.20" width="9.60" height="9.60" fill="none" stroke="#087a62" stroke-width="2.4"/>
<rect x="430.12" y="550.20" width="9.60" height="9.60" fill="none" stroke="#087a62" stroke-width="2.4"/>
<rect x="431.46" y="550.20" width="9.60" height="9.60" fill="none" stroke="#087a62" stroke-width="2.4"/>
<rect x="432.80" y="550.20" width="9.60" height="9.60" fill="none" stroke="#087a62" stroke-width="2.4"/>
<rect x="434.14" y="550.20" width="9.60" height="9.60" fill="none" stroke="#087a62" stroke-width="2.4"/>
<rect x="435.48" y="550.20" width="9.60" height="9.60" fill="none" stroke="#087a62" stroke-width="2.4"/>
<rect x="436.82" y="550.20" width="9.60" height="9.60" fill="none" stroke="#087a62" stroke-width="2.4"/>
<rect x="438.16" y="550.20" width="9.60" height="9.60" fill="none" stroke="#087a62" stroke-width="2.4"/>
<rect x="439.50" y="550.20" width="9.60" height="9.60" fill="none" stroke="#087a62" stroke-width="2.4"/>
<rect x="440.84" y="550.20" width="9.60" height="9.60" fill="none" stroke="#087a62" stroke-width="2.4"/>
<rect x="442.18" y="550.20" width="9.60" height="9.60" fill="none" stroke="#087a62" stroke-width="2.4"/>
<rect x="443.52" y="550.20" width="9.60" height="9.60" fill="none" stroke="#087a62" stroke-width="2.4"/>
<rect x="444.86" y="550.20" width="9.60" height="9.60" fill="none" stroke="#087a62" stroke-width="2.4"/>
<rect x="446.20" y="550.20" width="9.60" height="9.60" fill="none" stroke="#087a62" stroke-width="2.4"/>
<rect x="447.54" y="550.20" width="9.60" height="9.60" fill="none" stroke="#087a62" stroke-width="2.4"/>
<rect x="448.88" y="550.20" width="9.60" height="9.60" fill="none" stroke="#087a62" stroke-width="2.4"/>
<rect x="450.22" y="550.20" width="9.60" height="9.60" fill="none" stroke="#087a62" stroke-width="2.4"/>
<rect x="451.56" y="550.20" width="9.60" height="9.60" fill="none" stroke="#087a62" stroke-width="2.4"/>
<rect x="452.90" y="550.20" width="9.60" height="9.60" fill="none" stroke="#087a62" stroke-width="2.4"/>
<rect x="454.24" y="550.20" width="9.60" height="9.60" fill="none" stroke="#087a62" stroke-width="2.4"/>
<rect x="455.58" y="550.20" width="9.60" height="9.60" fill="none" stroke="#087a62" stroke-width="2.4"/>
<rect x="456.92" y="550.20" width="9.60" height="9.60" fill="none" stroke="#087a62" stroke-width="2.4"/>
<rect x="458.26" y="550.20" width="9.60" height="9.60" fill="none" stroke="#087a62" stroke-width="2.4"/>
<rect x="459.60" y="550.20" width="9.60" height="9.60" fill="none" stroke="#087a62" stroke-width="2.4"/>
<rect x="460.94" y="550.20" width="9.60" height="9.60" fill="none" stroke="#087a62" stroke-width="2.4"/>
<rect x="462.28" y="550.20" width="9.60" height="9.60" fill="none" stroke="#087a62" stroke-width="2.4"/>
<rect x="463.62" y="550.20" width="9.60" height="9.60" fill="none" stroke="#087a62" stroke-width="2.4"/>
<rect x="464.96" y="550.20" width="9.60" height="9.60" fill="none" stroke="#087a62" stroke-width="2.4"/>
<rect x="466.30" y="550.20" width="9.60" height="9.60" fill="none" stroke="#087a62" stroke-width="2.4"/>
<rect x="467.64" y="550.20" width="9.60" height="9.60" fill="none" stroke="#087a62" stroke-width="2.4"/>
<rect x="468.98" y="550.20" width="9.60" height="9.60" fill="none" stroke="#087a62" stroke-width="2.4"/>
<rect x="470.32" y="550.20" width="9.60" height="9.60" fill="none" stroke="#087a62" stroke-width="2.4"/>
<rect x="471.66" y="550.20" width="9.60" height="9.60" fill="none" stroke="#087a62" stroke-width="2.4"/>
<rect x="473.00" y="550.20" width="9.60" height="9.60" fill="none" stroke="#087a62" stroke-width="2.4"/>
<rect x="474.34" y="550.20" width="9.60" height="9.60" fill="none" stroke="#087a62" stroke-width="2.4"/>
<rect x="475.68" y="550.20" width="9.60" height="9.60" fill="none" stroke="#087a62" stroke-width="2.4"/>
<rect x="477.02" y="550.20" width="9.60" height="9.60" fill="none" stroke="#087a62" stroke-width="2.4"/>
<rect x="478.36" y="550.20" width="9.60" height="9.60" fill="none" stroke="#087a62" stroke-width="2.4"/>
<rect x="479.70" y="550.20" width="9.60" height="9.60" fill="none" stroke="#087a62" stroke-width="2.4"/>
<rect x="481.04" y="550.20" width="9.60" height="9.60" fill="none" stroke="#087a62" stroke-width="2.4"/>
<rect x="482.38" y="550.20" width="9.60" height="9.60" fill="none" stroke="#087a62" stroke-width="2.4"/>
<rect x="483.72" y="550.20" width="9.60" height="9.60" fill="none" stroke="#087a62" stroke-width="2.4"/>
<rect x="485.06" y="550.20" width="9.60" height="9.60" fill="none" stroke="#087a62" stroke-width="2.4"/>
<rect x="486.40" y="550.20" width="9.60" height="9.60" fill="none" stroke="#087a62" stroke-width="2.4"/>
<rect x="487.74" y="550.20" width="9.60" height="9.60" fill="none" stroke="#087a62" stroke-width="2.4"/>
<rect x="489.08" y="550.20" width="9.60" height="9.60" fill="none" stroke="#087a62" stroke-width="2.4"/>
<rect x="490.42" y="550.20" width="9.60" height="9.60" fill="none" stroke="#087a62" stroke-width="2.4"/>
<rect x="491.76" y="550.20" width="9.60" height="9.60" fill="none" stroke="#087a62" stroke-width="2.4"/>
<rect x="493.10" y="550.20" width="9.60" height="9.60" fill="none" stroke="#087a62" stroke-width="2.4"/>
<rect x="494.44" y="550.20" width="9.60" height="9.60" fill="none" stroke="#087a62" stroke-width="2.4"/>
<rect x="495.78" y="550.20" width="9.60" height="9.60" fill="none" stroke="#087a62" stroke-width="2.4"/>
<rect x="497.12" y="550.20" width="9.60" height="9.60" fill="none" stroke="#087a62" stroke-width="2.4"/>
<rect x="498.46" y="550.20" width="9.60" height="9.60" fill="none" stroke="#087a62" stroke-width="2.4"/>
<rect x="499.80" y="550.20" width="9.60" height="9.60" fill="none" stroke="#087a62" stroke-width="2.4"/>
<rect x="501.14" y="550.20" width="9.60" height="9.60" fill="none" stroke="#087a62" stroke-width="2.4"/>
<rect x="502.48" y="550.20" width="9.60" height="9.60" fill="none" stroke="#087a62" stroke-width="2.4"/>
<rect x="503.82" y="550.20" width="9.60" height="9.60" fill="none" stroke="#087a62" stroke-width="2.4"/>
<rect x="505.16" y="550.20" width="9.60" height="9.60" fill="none" stroke="#087a62" stroke-width="2.4"/>
<rect x="506.50" y="550.20" width="9.60" height="9.60" fill="none" stroke="#087a62" stroke-width="2.4"/>
<rect x="507.84" y="550.20" width="9.60" height="9.60" fill="none" stroke="#087a62" stroke-width="2.4"/>
<rect x="509.18" y="550.20" width="9.60" height="9.60" fill="none" stroke="#087a62" stroke-width="2.4"/>
<rect x="510.52" y="550.20" width="9.60" height="9.60" fill="none" stroke="#087a62" stroke-width="2.4"/>
<rect x="511.86" y="550.20" width="9.60" height="9.60" fill="none" stroke="#087a62" stroke-width="2.4"/>
<rect x="513.20" y="550.20" width="9.60" height="9.60" fill="none" stroke="#087a62" stroke-width="2.4"/>
<rect x="514.54" y="550.20" width="9.60" height="9.60" fill="none" stroke="#087a62" stroke-width="2.4"/>
<rect x="515.88" y="550.20" width="9.60" height="9.60" fill="none" stroke="#087a62" stroke-width="2.4"/>
<rect x="517.22" y="550.20" width="9.60" height="9.60" fill="none" stroke="#087a62" stroke-width="2.4"/>
<rect x="518.56" y="550.20" width="9.60" height="9.60" fill="none" stroke="#087a62" stroke-width="2.4"/>
<rect x="519.90" y="550.20" width="9.60" height="9.60" fill="none" stroke="#087a62" stroke-width="2.4"/>
<rect x="523.92" y="550.20" width="9.60" height="9.60" fill="none" stroke="#087a62" stroke-width="2.4"/>
<rect x="525.26" y="550.20" width="9.60" height="9.60" fill="none" stroke="#087a62" stroke-width="2.4"/>
<rect x="526.60" y="550.20" width="9.60" height="9.60" fill="none" stroke="#087a62" stroke-width="2.4"/>
<rect x="527.94" y="550.20" width="9.60" height="9.60" fill="none" stroke="#087a62" stroke-width="2.4"/>
<rect x="529.28" y="550.20" width="9.60" height="9.60" fill="none" stroke="#087a62" stroke-width="2.4"/>
<rect x="530.62" y="550.20" width="9.60" height="9.60" fill="none" stroke="#087a62" stroke-width="2.4"/>
<rect x="531.96" y="550.20" width="9.60" height="9.60" fill="none" stroke="#087a62" stroke-width="2.4"/>
<rect x="533.30" y="550.20" width="9.60" height="9.60" fill="none" stroke="#087a62" stroke-width="2.4"/>
<rect x="534.64" y="550.20" width="9.60" height="9.60" fill="none" stroke="#087a62" stroke-width="2.4"/>
<rect x="535.98" y="550.20" width="9.60" height="9.60" fill="none" stroke="#087a62" stroke-width="2.4"/>
<rect x="537.32" y="550.20" width="9.60" height="9.60" fill="none" stroke="#087a62" stroke-width="2.4"/>
<rect x="538.66" y="550.20" width="9.60" height="9.60" fill="none" stroke="#087a62" stroke-width="2.4"/>
<rect x="540.00" y="550.20" width="9.60" height="9.60" fill="none" stroke="#087a62" stroke-width="2.4"/>
<rect x="541.34" y="550.20" width="9.60" height="9.60" fill="none" stroke="#087a62" stroke-width="2.4"/>
<rect x="542.68" y="550.20" width="9.60" height="9.60" fill="none" stroke="#087a62" stroke-width="2.4"/>
<rect x="544.02" y="550.20" width="9.60" height="9.60" fill="none" stroke="#087a62" stroke-width="2.4"/>
<rect x="545.36" y="550.20" width="9.60" height="9.60" fill="none" stroke="#087a62" stroke-width="2.4"/>
<rect x="546.70" y="550.20" width="9.60" height="9.60" fill="none" stroke="#087a62" stroke-width="2.4"/>
<rect x="548.04" y="550.20" width="9.60" height="9.60" fill="none" stroke="#087a62" stroke-width="2.4"/>
<rect x="549.38" y="550.20" width="9.60" height="9.60" fill="none" stroke="#087a62" stroke-width="2.4"/>
<rect x="550.72" y="550.20" width="9.60" height="9.60" fill="none" stroke="#087a62" stroke-width="2.4"/>
<rect x="552.06" y="550.20" width="9.60" height="9.60" fill="none" stroke="#087a62" stroke-width="2.4"/>
<rect x="553.40" y="550.20" width="9.60" height="9.60" fill="none" stroke="#087a62" stroke-width="2.4"/>
<rect x="554.74" y="550.20" width="9.60" height="9.60" fill="none" stroke="#087a62" stroke-width="2.4"/>
<rect x="556.08" y="550.20" width="9.60" height="9.60" fill="none" stroke="#087a62" stroke-width="2.4"/>
<rect x="557.42" y="550.20" width="9.60" height="9.60" fill="none" stroke="#087a62" stroke-width="2.4"/>
<rect x="558.76" y="550.20" width="9.60" height="9.60" fill="none" stroke="#087a62" stroke-width="2.4"/>
<rect x="560.10" y="550.20" width="9.60" height="9.60" fill="none" stroke="#087a62" stroke-width="2.4"/>
<rect x="561.44" y="550.20" width="9.60" height="9.60" fill="none" stroke="#087a62" stroke-width="2.4"/>
<rect x="562.78" y="550.20" width="9.60" height="9.60" fill="none" stroke="#087a62" stroke-width="2.4"/>
<rect x="564.12" y="550.20" width="9.60" height="9.60" fill="none" stroke="#087a62" stroke-width="2.4"/>
<rect x="565.46" y="550.20" width="9.60" height="9.60" fill="none" stroke="#087a62" stroke-width="2.4"/>
<rect x="566.80" y="550.20" width="9.60" height="9.60" fill="none" stroke="#087a62" stroke-width="2.4"/>
<rect x="568.14" y="550.20" width="9.60" height="9.60" fill="none" stroke="#087a62" stroke-width="2.4"/>
<rect x="569.48" y="550.20" width="9.60" height="9.60" fill="none" stroke="#087a62" stroke-width="2.4"/>
<rect x="570.82" y="550.20" width="9.60" height="9.60" fill="none" stroke="#087a62" stroke-width="2.4"/>
<rect x="572.16" y="550.20" width="9.60" height="9.60" fill="none" stroke="#087a62" stroke-width="2.4"/>
<rect x="573.50" y="550.20" width="9.60" height="9.60" fill="none" stroke="#087a62" stroke-width="2.4"/>
<rect x="574.84" y="550.20" width="9.60" height="9.60" fill="none" stroke="#087a62" stroke-width="2.4"/>
<rect x="576.18" y="550.20" width="9.60" height="9.60" fill="none" stroke="#087a62" stroke-width="2.4"/>
<rect x="577.52" y="550.20" width="9.60" height="9.60" fill="none" stroke="#087a62" stroke-width="2.4"/>
<rect x="578.86" y="550.20" width="9.60" height="9.60" fill="none" stroke="#087a62" stroke-width="2.4"/>
<rect x="580.20" y="550.20" width="9.60" height="9.60" fill="none" stroke="#087a62" stroke-width="2.4"/>
<rect x="581.54" y="550.20" width="9.60" height="9.60" fill="none" stroke="#087a62" stroke-width="2.4"/>
<rect x="582.88" y="550.20" width="9.60" height="9.60" fill="none" stroke="#087a62" stroke-width="2.4"/>
<rect x="584.22" y="550.20" width="9.60" height="9.60" fill="none" stroke="#087a62" stroke-width="2.4"/>
<rect x="585.56" y="550.20" width="9.60" height="9.60" fill="none" stroke="#087a62" stroke-width="2.4"/>
<rect x="586.90" y="550.20" width="9.60" height="9.60" fill="none" stroke="#087a62" stroke-width="2.4"/>
<rect x="588.24" y="550.20" width="9.60" height="9.60" fill="none" stroke="#087a62" stroke-width="2.4"/>
<rect x="589.58" y="550.20" width="9.60" height="9.60" fill="none" stroke="#087a62" stroke-width="2.4"/>
<rect x="590.92" y="550.20" width="9.60" height="9.60" fill="none" stroke="#087a62" stroke-width="2.4"/>
<rect x="592.26" y="550.20" width="9.60" height="9.60" fill="none" stroke="#087a62" stroke-width="2.4"/>
<rect x="593.60" y="550.20" width="9.60" height="9.60" fill="none" stroke="#087a62" stroke-width="2.4"/>
<rect x="594.94" y="550.20" width="9.60" height="9.60" fill="none" stroke="#087a62" stroke-width="2.4"/>
<rect x="596.28" y="550.20" width="9.60" height="9.60" fill="none" stroke="#087a62" stroke-width="2.4"/>
<rect x="597.62" y="550.20" width="9.60" height="9.60" fill="none" stroke="#087a62" stroke-width="2.4"/>
<rect x="598.96" y="550.20" width="9.60" height="9.60" fill="none" stroke="#087a62" stroke-width="2.4"/>
<rect x="600.30" y="550.20" width="9.60" height="9.60" fill="none" stroke="#087a62" stroke-width="2.4"/>
<rect x="601.64" y="550.20" width="9.60" height="9.60" fill="none" stroke="#087a62" stroke-width="2.4"/>
<rect x="602.98" y="550.20" width="9.60" height="9.60" fill="none" stroke="#087a62" stroke-width="2.4"/>
<rect x="604.32" y="550.20" width="9.60" height="9.60" fill="none" stroke="#087a62" stroke-width="2.4"/>
<rect x="605.66" y="550.20" width="9.60" height="9.60" fill="none" stroke="#087a62" stroke-width="2.4"/>
<rect x="607.00" y="550.20" width="9.60" height="9.60" fill="none" stroke="#087a62" stroke-width="2.4"/>
<rect x="608.34" y="550.20" width="9.60" height="9.60" fill="none" stroke="#087a62" stroke-width="2.4"/>
<rect x="609.68" y="550.20" width="9.60" height="9.60" fill="none" stroke="#087a62" stroke-width="2.4"/>
<rect x="611.02" y="550.20" width="9.60" height="9.60" fill="none" stroke="#087a62" stroke-width="2.4"/>
<rect x="612.36" y="550.20" width="9.60" height="9.60" fill="none" stroke="#087a62" stroke-width="2.4"/>
<rect x="613.70" y="550.20" width="9.60" height="9.60" fill="none" stroke="#087a62" stroke-width="2.4"/>
<rect x="615.04" y="550.20" width="9.60" height="9.60" fill="none" stroke="#087a62" stroke-width="2.4"/>
<rect x="616.38" y="550.20" width="9.60" height="9.60" fill="none" stroke="#087a62" stroke-width="2.4"/>
<rect x="617.72" y="550.20" width="9.60" height="9.60" fill="none" stroke="#087a62" stroke-width="2.4"/>
<rect x="619.06" y="550.20" width="9.60" height="9.60" fill="none" stroke="#087a62" stroke-width="2.4"/>
<rect x="620.40" y="550.20" width="9.60" height="9.60" fill="none" stroke="#087a62" stroke-width="2.4"/>
<rect x="621.74" y="550.20" width="9.60" height="9.60" fill="none" stroke="#087a62" stroke-width="2.4"/>
<rect x="623.08" y="550.20" width="9.60" height="9.60" fill="none" stroke="#087a62" stroke-width="2.4"/>
<rect x="624.42" y="550.20" width="9.60" height="9.60" fill="none" stroke="#087a62" stroke-width="2.4"/>
<rect x="625.76" y="550.20" width="9.60" height="9.60" fill="none" stroke="#087a62" stroke-width="2.4"/>
<rect x="627.10" y="550.20" width="9.60" height="9.60" fill="none" stroke="#087a62" stroke-width="2.4"/>
<rect x="628.44" y="550.20" width="9.60" height="9.60" fill="none" stroke="#087a62" stroke-width="2.4"/>
<rect x="629.78" y="550.20" width="9.60" height="9.60" fill="none" stroke="#087a62" stroke-width="2.4"/>
<rect x="631.12" y="550.20" width="9.60" height="9.60" fill="none" stroke="#087a62" stroke-width="2.4"/>
<rect x="632.46" y="550.20" width="9.60" height="9.60" fill="none" stroke="#087a62" stroke-width="2.4"/>
<rect x="633.80" y="550.20" width="9.60" height="9.60" fill="none" stroke="#087a62" stroke-width="2.4"/>
<rect x="635.14" y="550.20" width="9.60" height="9.60" fill="none" stroke="#087a62" stroke-width="2.4"/>
<rect x="636.48" y="550.20" width="9.60" height="9.60" fill="none" stroke="#087a62" stroke-width="2.4"/>
<rect x="637.82" y="550.20" width="9.60" height="9.60" fill="none" stroke="#087a62" stroke-width="2.4"/>
<rect x="639.16" y="550.20" width="9.60" height="9.60" fill="none" stroke="#087a62" stroke-width="2.4"/>
<rect x="640.50" y="550.20" width="9.60" height="9.60" fill="none" stroke="#087a62" stroke-width="2.4"/>
<rect x="641.84" y="550.20" width="9.60" height="9.60" fill="none" stroke="#087a62" stroke-width="2.4"/>
<rect x="643.18" y="550.20" width="9.60" height="9.60" fill="none" stroke="#087a62" stroke-width="2.4"/>
<rect x="644.52" y="550.20" width="9.60" height="9.60" fill="none" stroke="#087a62" stroke-width="2.4"/>
<rect x="645.86" y="550.20" width="9.60" height="9.60" fill="none" stroke="#087a62" stroke-width="2.4"/>
<rect x="647.20" y="550.20" width="9.60" height="9.60" fill="none" stroke="#087a62" stroke-width="2.4"/>
<rect x="648.54" y="550.20" width="9.60" height="9.60" fill="none" stroke="#087a62" stroke-width="2.4"/>
<rect x="649.88" y="550.20" width="9.60" height="9.60" fill="none" stroke="#087a62" stroke-width="2.4"/>
<rect x="651.22" y="550.20" width="9.60" height="9.60" fill="none" stroke="#087a62" stroke-width="2.4"/>
<rect x="652.56" y="550.20" width="9.60" height="9.60" fill="none" stroke="#087a62" stroke-width="2.4"/>
<rect x="653.90" y="550.20" width="9.60" height="9.60" fill="none" stroke="#087a62" stroke-width="2.4"/>
<rect x="655.24" y="550.20" width="9.60" height="9.60" fill="none" stroke="#087a62" stroke-width="2.4"/>
<rect x="656.58" y="550.20" width="9.60" height="9.60" fill="none" stroke="#087a62" stroke-width="2.4"/>
<rect x="657.92" y="550.20" width="9.60" height="9.60" fill="none" stroke="#087a62" stroke-width="2.4"/>
<rect x="659.26" y="550.20" width="9.60" height="9.60" fill="none" stroke="#087a62" stroke-width="2.4"/>
<rect x="660.60" y="550.20" width="9.60" height="9.60" fill="none" stroke="#087a62" stroke-width="2.4"/>
<rect x="661.94" y="550.20" width="9.60" height="9.60" fill="none" stroke="#087a62" stroke-width="2.4"/>
<rect x="663.28" y="550.20" width="9.60" height="9.60" fill="none" stroke="#087a62" stroke-width="2.4"/>
<rect x="664.62" y="550.20" width="9.60" height="9.60" fill="none" stroke="#087a62" stroke-width="2.4"/>
<rect x="665.96" y="550.20" width="9.60" height="9.60" fill="none" stroke="#087a62" stroke-width="2.4"/>
<rect x="667.30" y="550.20" width="9.60" height="9.60" fill="none" stroke="#087a62" stroke-width="2.4"/>
<polyline points="526.00,371.50 526.60,374.50 525.80,378.50 526.40,386.00 525.90,403.30 526.30,420.80 525.70,441.60 526.20,460.50 526.60,476.50 525.80,492.00 526.40,503.30 526.00,512.80 526.30,524.00 526.10,535.50 526.00,545.50" fill="none" stroke="#087a62" stroke-width="1.5" stroke-linejoin="round" />
<rect x="520.80" y="366.30" width="10.40" height="10.40" fill="none" stroke="#087a62" stroke-width="2.4"/>
<rect x="523.20" y="367.90" width="9.60" height="9.60" fill="none" stroke="#087a62" stroke-width="2.0"/>
<rect x="521.40" y="369.30" width="10.40" height="10.40" fill="none" stroke="#087a62" stroke-width="2.4"/>
<rect x="523.80" y="370.90" width="9.60" height="9.60" fill="none" stroke="#087a62" stroke-width="2.0"/>
<rect x="520.60" y="373.30" width="10.40" height="10.40" fill="none" stroke="#087a62" stroke-width="2.4"/>
<rect x="523.00" y="374.90" width="9.60" height="9.60" fill="none" stroke="#087a62" stroke-width="2.0"/>
<rect x="521.20" y="380.80" width="10.40" height="10.40" fill="none" stroke="#087a62" stroke-width="2.4"/>
<rect x="523.60" y="382.40" width="9.60" height="9.60" fill="none" stroke="#087a62" stroke-width="2.0"/>
<rect x="520.70" y="398.10" width="10.40" height="10.40" fill="none" stroke="#087a62" stroke-width="2.4"/>
<rect x="523.10" y="399.70" width="9.60" height="9.60" fill="none" stroke="#087a62" stroke-width="2.0"/>
<rect x="521.10" y="415.60" width="10.40" height="10.40" fill="none" stroke="#087a62" stroke-width="2.4"/>
<rect x="523.50" y="417.20" width="9.60" height="9.60" fill="none" stroke="#087a62" stroke-width="2.0"/>
<rect x="520.50" y="436.40" width="10.40" height="10.40" fill="none" stroke="#087a62" stroke-width="2.4"/>
<rect x="522.90" y="438.00" width="9.60" height="9.60" fill="none" stroke="#087a62" stroke-width="2.0"/>
<rect x="521.00" y="455.30" width="10.40" height="10.40" fill="none" stroke="#087a62" stroke-width="2.4"/>
<rect x="523.40" y="456.90" width="9.60" height="9.60" fill="none" stroke="#087a62" stroke-width="2.0"/>
<rect x="521.40" y="471.30" width="10.40" height="10.40" fill="none" stroke="#087a62" stroke-width="2.4"/>
<rect x="523.80" y="472.90" width="9.60" height="9.60" fill="none" stroke="#087a62" stroke-width="2.0"/>
<rect x="520.60" y="486.80" width="10.40" height="10.40" fill="none" stroke="#087a62" stroke-width="2.4"/>
<rect x="523.00" y="488.40" width="9.60" height="9.60" fill="none" stroke="#087a62" stroke-width="2.0"/>
<rect x="521.20" y="498.10" width="10.40" height="10.40" fill="none" stroke="#087a62" stroke-width="2.4"/>
<rect x="523.60" y="499.70" width="9.60" height="9.60" fill="none" stroke="#087a62" stroke-width="2.0"/>
<rect x="520.80" y="507.60" width="10.40" height="10.40" fill="none" stroke="#087a62" stroke-width="2.4"/>
<rect x="523.20" y="509.20" width="9.60" height="9.60" fill="none" stroke="#087a62" stroke-width="2.0"/>
<rect x="521.10" y="518.80" width="10.40" height="10.40" fill="none" stroke="#087a62" stroke-width="2.4"/>
<rect x="523.50" y="520.40" width="9.60" height="9.60" fill="none" stroke="#087a62" stroke-width="2.0"/>
<rect x="520.90" y="530.30" width="10.40" height="10.40" fill="none" stroke="#087a62" stroke-width="2.4"/>
<rect x="523.30" y="531.90" width="9.60" height="9.60" fill="none" stroke="#087a62" stroke-width="2.0"/>
<rect x="520.80" y="540.30" width="10.40" height="10.40" fill="none" stroke="#087a62" stroke-width="2.4"/>
<rect x="523.20" y="541.90" width="9.60" height="9.60" fill="none" stroke="#087a62" stroke-width="2.0"/>
<polyline points="474.50,534.30 475.80,510.10 481.30,501.10 481.30,495.70 474.90,486.60 481.30,483.00 480.40,471.20 480.40,457.60 474.90,446.70 480.40,440.40 478.00,420.50 476.50,419.00 478.50,396.10 476.50,389.80 478.00,371.70 477.50,363.00 478.50,352.00 477.80,347.30 477.80,345.00 477.80,341.80" fill="none" stroke="#0000ff" stroke-width="1.5" stroke-linejoin="round" />
<circle cx="404.10" cy="554.83" r="4.6" fill="none" stroke="#0000ff" stroke-width="2.3"/>
<circle cx="405.17" cy="554.81" r="4.6" fill="none" stroke="#0000ff" stroke-width="2.3"/>
<circle cx="406.24" cy="554.80" r="4.6" fill="none" stroke="#0000ff" stroke-width="2.3"/>
<circle cx="407.32" cy="554.78" r="4.6" fill="none" stroke="#0000ff" stroke-width="2.3"/>
<circle cx="408.39" cy="554.77" r="4.6" fill="none" stroke="#0000ff" stroke-width="2.3"/>
<circle cx="409.46" cy="554.75" r="4.6" fill="none" stroke="#0000ff" stroke-width="2.3"/>
<circle cx="410.53" cy="554.73" r="4.6" fill="none" stroke="#0000ff" stroke-width="2.3"/>
<circle cx="411.60" cy="554.71" r="4.6" fill="none" stroke="#0000ff" stroke-width="2.3"/>
<circle cx="412.68" cy="554.69" r="4.6" fill="none" stroke="#0000ff" stroke-width="2.3"/>
<circle cx="413.75" cy="554.67" r="4.6" fill="none" stroke="#0000ff" stroke-width="2.3"/>
<circle cx="414.82" cy="554.64" r="4.6" fill="none" stroke="#0000ff" stroke-width="2.3"/>
<circle cx="415.89" cy="554.61" r="4.6" fill="none" stroke="#0000ff" stroke-width="2.3"/>
<circle cx="416.96" cy="554.58" r="4.6" fill="none" stroke="#0000ff" stroke-width="2.3"/>
<circle cx="418.04" cy="554.55" r="4.6" fill="none" stroke="#0000ff" stroke-width="2.3"/>
<circle cx="419.11" cy="554.52" r="4.6" fill="none" stroke="#0000ff" stroke-width="2.3"/>
<circle cx="420.18" cy="554.48" r="4.6" fill="none" stroke="#0000ff" stroke-width="2.3"/>
<circle cx="421.25" cy="554.44" r="4.6" fill="none" stroke="#0000ff" stroke-width="2.3"/>
<circle cx="422.32" cy="554.40" r="4.6" fill="none" stroke="#0000ff" stroke-width="2.3"/>
<circle cx="423.40" cy="554.36" r="4.6" fill="none" stroke="#0000ff" stroke-width="2.3"/>
<circle cx="424.47" cy="554.31" r="4.6" fill="none" stroke="#0000ff" stroke-width="2.3"/>
<circle cx="425.54" cy="554.26" r="4.6" fill="none" stroke="#0000ff" stroke-width="2.3"/>
<circle cx="426.61" cy="554.20" r="4.6" fill="none" stroke="#0000ff" stroke-width="2.3"/>
<circle cx="427.68" cy="554.14" r="4.6" fill="none" stroke="#0000ff" stroke-width="2.3"/>
<circle cx="428.76" cy="554.07" r="4.6" fill="none" stroke="#0000ff" stroke-width="2.3"/>
<circle cx="429.83" cy="554.00" r="4.6" fill="none" stroke="#0000ff" stroke-width="2.3"/>
<circle cx="430.90" cy="553.93" r="4.6" fill="none" stroke="#0000ff" stroke-width="2.3"/>
<circle cx="431.97" cy="553.85" r="4.6" fill="none" stroke="#0000ff" stroke-width="2.3"/>
<circle cx="433.04" cy="553.76" r="4.6" fill="none" stroke="#0000ff" stroke-width="2.3"/>
<circle cx="434.12" cy="553.67" r="4.6" fill="none" stroke="#0000ff" stroke-width="2.3"/>
<circle cx="435.19" cy="553.57" r="4.6" fill="none" stroke="#0000ff" stroke-width="2.3"/>
<circle cx="436.26" cy="553.46" r="4.6" fill="none" stroke="#0000ff" stroke-width="2.3"/>
<circle cx="437.33" cy="553.34" r="4.6" fill="none" stroke="#0000ff" stroke-width="2.3"/>
<circle cx="438.40" cy="553.22" r="4.6" fill="none" stroke="#0000ff" stroke-width="2.3"/>
<circle cx="439.48" cy="553.08" r="4.6" fill="none" stroke="#0000ff" stroke-width="2.3"/>
<circle cx="440.55" cy="552.94" r="4.6" fill="none" stroke="#0000ff" stroke-width="2.3"/>
<circle cx="441.62" cy="552.78" r="4.6" fill="none" stroke="#0000ff" stroke-width="2.3"/>
<circle cx="442.69" cy="552.62" r="4.6" fill="none" stroke="#0000ff" stroke-width="2.3"/>
<circle cx="443.76" cy="552.44" r="4.6" fill="none" stroke="#0000ff" stroke-width="2.3"/>
<circle cx="444.84" cy="552.24" r="4.6" fill="none" stroke="#0000ff" stroke-width="2.3"/>
<circle cx="445.91" cy="552.04" r="4.6" fill="none" stroke="#0000ff" stroke-width="2.3"/>
<circle cx="446.98" cy="551.81" r="4.6" fill="none" stroke="#0000ff" stroke-width="2.3"/>
<circle cx="448.05" cy="551.57" r="4.6" fill="none" stroke="#0000ff" stroke-width="2.3"/>
<circle cx="449.12" cy="551.31" r="4.6" fill="none" stroke="#0000ff" stroke-width="2.3"/>
<circle cx="450.20" cy="551.04" r="4.6" fill="none" stroke="#0000ff" stroke-width="2.3"/>
<circle cx="451.27" cy="550.74" r="4.6" fill="none" stroke="#0000ff" stroke-width="2.3"/>
<circle cx="452.34" cy="550.42" r="4.6" fill="none" stroke="#0000ff" stroke-width="2.3"/>
<circle cx="453.41" cy="550.07" r="4.6" fill="none" stroke="#0000ff" stroke-width="2.3"/>
<circle cx="454.48" cy="549.70" r="4.6" fill="none" stroke="#0000ff" stroke-width="2.3"/>
<circle cx="455.56" cy="549.30" r="4.6" fill="none" stroke="#0000ff" stroke-width="2.3"/>
<circle cx="456.63" cy="548.87" r="4.6" fill="none" stroke="#0000ff" stroke-width="2.3"/>
<circle cx="457.70" cy="548.41" r="4.6" fill="none" stroke="#0000ff" stroke-width="2.3"/>
<circle cx="458.77" cy="547.91" r="4.6" fill="none" stroke="#0000ff" stroke-width="2.3"/>
<circle cx="459.84" cy="547.37" r="4.6" fill="none" stroke="#0000ff" stroke-width="2.3"/>
<circle cx="460.92" cy="546.80" r="4.6" fill="none" stroke="#0000ff" stroke-width="2.3"/>
<circle cx="461.99" cy="546.18" r="4.6" fill="none" stroke="#0000ff" stroke-width="2.3"/>
<circle cx="463.06" cy="545.51" r="4.6" fill="none" stroke="#0000ff" stroke-width="2.3"/>
<circle cx="464.13" cy="544.80" r="4.6" fill="none" stroke="#0000ff" stroke-width="2.3"/>
<circle cx="465.20" cy="544.03" r="4.6" fill="none" stroke="#0000ff" stroke-width="2.3"/>
<circle cx="466.28" cy="543.20" r="4.6" fill="none" stroke="#0000ff" stroke-width="2.3"/>
<circle cx="467.35" cy="542.31" r="4.6" fill="none" stroke="#0000ff" stroke-width="2.3"/>
<circle cx="468.42" cy="541.35" r="4.6" fill="none" stroke="#0000ff" stroke-width="2.3"/>
<circle cx="469.49" cy="540.32" r="4.6" fill="none" stroke="#0000ff" stroke-width="2.3"/>
<circle cx="470.56" cy="539.22" r="4.6" fill="none" stroke="#0000ff" stroke-width="2.3"/>
<circle cx="471.64" cy="538.03" r="4.6" fill="none" stroke="#0000ff" stroke-width="2.3"/>
<circle cx="472.71" cy="536.75" r="4.6" fill="none" stroke="#0000ff" stroke-width="2.3"/>
<circle cx="473.78" cy="535.37" r="4.6" fill="none" stroke="#0000ff" stroke-width="2.3"/>
<circle cx="474.85" cy="533.89" r="4.6" fill="none" stroke="#0000ff" stroke-width="2.3"/>
<circle cx="481.82" cy="522.84" r="4.6" fill="none" stroke="#0000ff" stroke-width="2.3"/>
<circle cx="482.89" cy="522.87" r="4.6" fill="none" stroke="#0000ff" stroke-width="2.3"/>
<circle cx="483.96" cy="522.90" r="4.6" fill="none" stroke="#0000ff" stroke-width="2.3"/>
<circle cx="485.04" cy="522.93" r="4.6" fill="none" stroke="#0000ff" stroke-width="2.3"/>
<circle cx="486.11" cy="522.96" r="4.6" fill="none" stroke="#0000ff" stroke-width="2.3"/>
<circle cx="487.18" cy="522.99" r="4.6" fill="none" stroke="#0000ff" stroke-width="2.3"/>
<circle cx="488.25" cy="523.02" r="4.6" fill="none" stroke="#0000ff" stroke-width="2.3"/>
<circle cx="489.32" cy="523.05" r="4.6" fill="none" stroke="#0000ff" stroke-width="2.3"/>
<circle cx="490.40" cy="523.08" r="4.6" fill="none" stroke="#0000ff" stroke-width="2.3"/>
<circle cx="491.47" cy="523.10" r="4.6" fill="none" stroke="#0000ff" stroke-width="2.3"/>
<circle cx="492.54" cy="523.13" r="4.6" fill="none" stroke="#0000ff" stroke-width="2.3"/>
<circle cx="493.61" cy="523.16" r="4.6" fill="none" stroke="#0000ff" stroke-width="2.3"/>
<circle cx="494.68" cy="523.18" r="4.6" fill="none" stroke="#0000ff" stroke-width="2.3"/>
<circle cx="495.76" cy="523.21" r="4.6" fill="none" stroke="#0000ff" stroke-width="2.3"/>
<circle cx="496.83" cy="523.23" r="4.6" fill="none" stroke="#0000ff" stroke-width="2.3"/>
<circle cx="497.90" cy="523.26" r="4.6" fill="none" stroke="#0000ff" stroke-width="2.3"/>
<circle cx="498.97" cy="523.28" r="4.6" fill="none" stroke="#0000ff" stroke-width="2.3"/>
<circle cx="500.04" cy="523.31" r="4.6" fill="none" stroke="#0000ff" stroke-width="2.3"/>
<circle cx="501.12" cy="523.33" r="4.6" fill="none" stroke="#0000ff" stroke-width="2.3"/>
<circle cx="502.19" cy="523.36" r="4.6" fill="none" stroke="#0000ff" stroke-width="2.3"/>
<circle cx="503.26" cy="523.39" r="4.6" fill="none" stroke="#0000ff" stroke-width="2.3"/>
<circle cx="504.33" cy="523.42" r="4.6" fill="none" stroke="#0000ff" stroke-width="2.3"/>
<circle cx="505.40" cy="523.45" r="4.6" fill="none" stroke="#0000ff" stroke-width="2.3"/>
<circle cx="506.48" cy="523.48" r="4.6" fill="none" stroke="#0000ff" stroke-width="2.3"/>
<circle cx="507.55" cy="523.51" r="4.6" fill="none" stroke="#0000ff" stroke-width="2.3"/>
<circle cx="508.62" cy="523.54" r="4.6" fill="none" stroke="#0000ff" stroke-width="2.3"/>
<circle cx="509.69" cy="523.57" r="4.6" fill="none" stroke="#0000ff" stroke-width="2.3"/>
<circle cx="510.76" cy="523.61" r="4.6" fill="none" stroke="#0000ff" stroke-width="2.3"/>
<circle cx="511.84" cy="523.64" r="4.6" fill="none" stroke="#0000ff" stroke-width="2.3"/>
<circle cx="512.91" cy="523.68" r="4.6" fill="none" stroke="#0000ff" stroke-width="2.3"/>
<circle cx="513.98" cy="523.71" r="4.6" fill="none" stroke="#0000ff" stroke-width="2.3"/>
<circle cx="515.05" cy="523.74" r="4.6" fill="none" stroke="#0000ff" stroke-width="2.3"/>
<circle cx="516.12" cy="523.78" r="4.6" fill="none" stroke="#0000ff" stroke-width="2.3"/>
<circle cx="517.20" cy="523.81" r="4.6" fill="none" stroke="#0000ff" stroke-width="2.3"/>
<circle cx="518.27" cy="523.85" r="4.6" fill="none" stroke="#0000ff" stroke-width="2.3"/>
<circle cx="519.34" cy="523.88" r="4.6" fill="none" stroke="#0000ff" stroke-width="2.3"/>
<circle cx="520.41" cy="523.92" r="4.6" fill="none" stroke="#0000ff" stroke-width="2.3"/>
<circle cx="521.48" cy="523.95" r="4.6" fill="none" stroke="#0000ff" stroke-width="2.3"/>
<circle cx="522.56" cy="523.98" r="4.6" fill="none" stroke="#0000ff" stroke-width="2.3"/>
<circle cx="523.63" cy="524.02" r="4.6" fill="none" stroke="#0000ff" stroke-width="2.3"/>
<circle cx="524.70" cy="524.05" r="4.6" fill="none" stroke="#0000ff" stroke-width="2.3"/>
<circle cx="525.77" cy="524.08" r="4.6" fill="none" stroke="#0000ff" stroke-width="2.3"/>
<circle cx="526.84" cy="524.11" r="4.6" fill="none" stroke="#0000ff" stroke-width="2.3"/>
<circle cx="527.92" cy="524.14" r="4.6" fill="none" stroke="#0000ff" stroke-width="2.3"/>
<circle cx="528.99" cy="524.17" r="4.6" fill="none" stroke="#0000ff" stroke-width="2.3"/>
<circle cx="530.06" cy="524.20" r="4.6" fill="none" stroke="#0000ff" stroke-width="2.3"/>
<circle cx="531.13" cy="524.23" r="4.6" fill="none" stroke="#0000ff" stroke-width="2.3"/>
<circle cx="532.20" cy="524.26" r="4.6" fill="none" stroke="#0000ff" stroke-width="2.3"/>
<circle cx="533.28" cy="524.28" r="4.6" fill="none" stroke="#0000ff" stroke-width="2.3"/>
<circle cx="534.35" cy="524.31" r="4.6" fill="none" stroke="#0000ff" stroke-width="2.3"/>
<circle cx="535.42" cy="524.34" r="4.6" fill="none" stroke="#0000ff" stroke-width="2.3"/>
<circle cx="536.49" cy="524.38" r="4.6" fill="none" stroke="#0000ff" stroke-width="2.3"/>
<circle cx="537.56" cy="524.41" r="4.6" fill="none" stroke="#0000ff" stroke-width="2.3"/>
<circle cx="538.64" cy="524.44" r="4.6" fill="none" stroke="#0000ff" stroke-width="2.3"/>
<circle cx="539.71" cy="524.48" r="4.6" fill="none" stroke="#0000ff" stroke-width="2.3"/>
<circle cx="540.78" cy="524.51" r="4.6" fill="none" stroke="#0000ff" stroke-width="2.3"/>
<circle cx="541.85" cy="524.55" r="4.6" fill="none" stroke="#0000ff" stroke-width="2.3"/>
<circle cx="542.92" cy="524.59" r="4.6" fill="none" stroke="#0000ff" stroke-width="2.3"/>
<circle cx="544.00" cy="524.63" r="4.6" fill="none" stroke="#0000ff" stroke-width="2.3"/>
<circle cx="545.07" cy="524.67" r="4.6" fill="none" stroke="#0000ff" stroke-width="2.3"/>
<circle cx="546.14" cy="524.71" r="4.6" fill="none" stroke="#0000ff" stroke-width="2.3"/>
<circle cx="547.21" cy="524.76" r="4.6" fill="none" stroke="#0000ff" stroke-width="2.3"/>
<circle cx="548.28" cy="524.80" r="4.6" fill="none" stroke="#0000ff" stroke-width="2.3"/>
<circle cx="549.36" cy="524.85" r="4.6" fill="none" stroke="#0000ff" stroke-width="2.3"/>
<circle cx="550.43" cy="524.89" r="4.6" fill="none" stroke="#0000ff" stroke-width="2.3"/>
<circle cx="551.50" cy="524.94" r="4.6" fill="none" stroke="#0000ff" stroke-width="2.3"/>
<circle cx="552.57" cy="524.99" r="4.6" fill="none" stroke="#0000ff" stroke-width="2.3"/>
<circle cx="553.64" cy="525.04" r="4.6" fill="none" stroke="#0000ff" stroke-width="2.3"/>
<circle cx="554.72" cy="525.09" r="4.6" fill="none" stroke="#0000ff" stroke-width="2.3"/>
<circle cx="555.79" cy="525.14" r="4.6" fill="none" stroke="#0000ff" stroke-width="2.3"/>
<circle cx="556.86" cy="525.19" r="4.6" fill="none" stroke="#0000ff" stroke-width="2.3"/>
<circle cx="557.93" cy="525.25" r="4.6" fill="none" stroke="#0000ff" stroke-width="2.3"/>
<circle cx="559.00" cy="525.30" r="4.6" fill="none" stroke="#0000ff" stroke-width="2.3"/>
<circle cx="560.08" cy="525.36" r="4.6" fill="none" stroke="#0000ff" stroke-width="2.3"/>
<circle cx="561.15" cy="525.42" r="4.6" fill="none" stroke="#0000ff" stroke-width="2.3"/>
<circle cx="562.22" cy="525.48" r="4.6" fill="none" stroke="#0000ff" stroke-width="2.3"/>
<circle cx="563.29" cy="525.54" r="4.6" fill="none" stroke="#0000ff" stroke-width="2.3"/>
<circle cx="564.36" cy="525.61" r="4.6" fill="none" stroke="#0000ff" stroke-width="2.3"/>
<circle cx="565.44" cy="525.68" r="4.6" fill="none" stroke="#0000ff" stroke-width="2.3"/>
<circle cx="566.51" cy="525.75" r="4.6" fill="none" stroke="#0000ff" stroke-width="2.3"/>
<circle cx="567.58" cy="525.82" r="4.6" fill="none" stroke="#0000ff" stroke-width="2.3"/>
<circle cx="568.65" cy="525.90" r="4.6" fill="none" stroke="#0000ff" stroke-width="2.3"/>
<circle cx="569.72" cy="525.97" r="4.6" fill="none" stroke="#0000ff" stroke-width="2.3"/>
<circle cx="570.80" cy="526.05" r="4.6" fill="none" stroke="#0000ff" stroke-width="2.3"/>
<circle cx="571.87" cy="526.13" r="4.6" fill="none" stroke="#0000ff" stroke-width="2.3"/>
<circle cx="572.94" cy="526.21" r="4.6" fill="none" stroke="#0000ff" stroke-width="2.3"/>
<circle cx="574.01" cy="526.29" r="4.6" fill="none" stroke="#0000ff" stroke-width="2.3"/>
<circle cx="575.08" cy="526.37" r="4.6" fill="none" stroke="#0000ff" stroke-width="2.3"/>
<circle cx="576.16" cy="526.45" r="4.6" fill="none" stroke="#0000ff" stroke-width="2.3"/>
<circle cx="577.23" cy="526.53" r="4.6" fill="none" stroke="#0000ff" stroke-width="2.3"/>
<circle cx="578.30" cy="526.61" r="4.6" fill="none" stroke="#0000ff" stroke-width="2.3"/>
<circle cx="579.37" cy="526.69" r="4.6" fill="none" stroke="#0000ff" stroke-width="2.3"/>
<circle cx="580.44" cy="526.78" r="4.6" fill="none" stroke="#0000ff" stroke-width="2.3"/>
<circle cx="581.52" cy="526.86" r="4.6" fill="none" stroke="#0000ff" stroke-width="2.3"/>
<circle cx="582.59" cy="526.95" r="4.6" fill="none" stroke="#0000ff" stroke-width="2.3"/>
<circle cx="583.66" cy="527.03" r="4.6" fill="none" stroke="#0000ff" stroke-width="2.3"/>
<circle cx="584.73" cy="527.12" r="4.6" fill="none" stroke="#0000ff" stroke-width="2.3"/>
<circle cx="585.80" cy="527.21" r="4.6" fill="none" stroke="#0000ff" stroke-width="2.3"/>
<circle cx="586.88" cy="527.30" r="4.6" fill="none" stroke="#0000ff" stroke-width="2.3"/>
<circle cx="587.95" cy="527.40" r="4.6" fill="none" stroke="#0000ff" stroke-width="2.3"/>
<circle cx="589.02" cy="527.49" r="4.6" fill="none" stroke="#0000ff" stroke-width="2.3"/>
<circle cx="590.09" cy="527.59" r="4.6" fill="none" stroke="#0000ff" stroke-width="2.3"/>
<circle cx="591.16" cy="527.70" r="4.6" fill="none" stroke="#0000ff" stroke-width="2.3"/>
<circle cx="592.24" cy="527.80" r="4.6" fill="none" stroke="#0000ff" stroke-width="2.3"/>
<circle cx="593.31" cy="527.91" r="4.6" fill="none" stroke="#0000ff" stroke-width="2.3"/>
<circle cx="594.38" cy="528.02" r="4.6" fill="none" stroke="#0000ff" stroke-width="2.3"/>
<circle cx="595.45" cy="528.13" r="4.6" fill="none" stroke="#0000ff" stroke-width="2.3"/>
<circle cx="596.52" cy="528.24" r="4.6" fill="none" stroke="#0000ff" stroke-width="2.3"/>
<circle cx="597.60" cy="528.36" r="4.6" fill="none" stroke="#0000ff" stroke-width="2.3"/>
<circle cx="598.67" cy="528.48" r="4.6" fill="none" stroke="#0000ff" stroke-width="2.3"/>
<circle cx="599.74" cy="528.61" r="4.6" fill="none" stroke="#0000ff" stroke-width="2.3"/>
<circle cx="600.81" cy="528.73" r="4.6" fill="none" stroke="#0000ff" stroke-width="2.3"/>
<circle cx="601.88" cy="528.87" r="4.6" fill="none" stroke="#0000ff" stroke-width="2.3"/>
<circle cx="602.96" cy="529.00" r="4.6" fill="none" stroke="#0000ff" stroke-width="2.3"/>
<circle cx="604.03" cy="529.14" r="4.6" fill="none" stroke="#0000ff" stroke-width="2.3"/>
<circle cx="605.10" cy="529.29" r="4.6" fill="none" stroke="#0000ff" stroke-width="2.3"/>
<circle cx="606.17" cy="529.44" r="4.6" fill="none" stroke="#0000ff" stroke-width="2.3"/>
<circle cx="607.24" cy="529.59" r="4.6" fill="none" stroke="#0000ff" stroke-width="2.3"/>
<circle cx="608.32" cy="529.76" r="4.6" fill="none" stroke="#0000ff" stroke-width="2.3"/>
<circle cx="609.39" cy="529.93" r="4.6" fill="none" stroke="#0000ff" stroke-width="2.3"/>
<circle cx="610.46" cy="530.10" r="4.6" fill="none" stroke="#0000ff" stroke-width="2.3"/>
<circle cx="611.53" cy="530.28" r="4.6" fill="none" stroke="#0000ff" stroke-width="2.3"/>
<circle cx="612.60" cy="530.47" r="4.6" fill="none" stroke="#0000ff" stroke-width="2.3"/>
<circle cx="613.68" cy="530.66" r="4.6" fill="none" stroke="#0000ff" stroke-width="2.3"/>
<circle cx="614.75" cy="530.85" r="4.6" fill="none" stroke="#0000ff" stroke-width="2.3"/>
<circle cx="615.82" cy="531.05" r="4.6" fill="none" stroke="#0000ff" stroke-width="2.3"/>
<circle cx="616.89" cy="531.25" r="4.6" fill="none" stroke="#0000ff" stroke-width="2.3"/>
<circle cx="617.96" cy="531.45" r="4.6" fill="none" stroke="#0000ff" stroke-width="2.3"/>
<circle cx="619.04" cy="531.66" r="4.6" fill="none" stroke="#0000ff" stroke-width="2.3"/>
<circle cx="620.11" cy="531.87" r="4.6" fill="none" stroke="#0000ff" stroke-width="2.3"/>
<circle cx="621.18" cy="532.08" r="4.6" fill="none" stroke="#0000ff" stroke-width="2.3"/>
<circle cx="622.25" cy="532.30" r="4.6" fill="none" stroke="#0000ff" stroke-width="2.3"/>
<circle cx="623.32" cy="532.53" r="4.6" fill="none" stroke="#0000ff" stroke-width="2.3"/>
<circle cx="624.40" cy="532.75" r="4.6" fill="none" stroke="#0000ff" stroke-width="2.3"/>
<circle cx="625.47" cy="532.99" r="4.6" fill="none" stroke="#0000ff" stroke-width="2.3"/>
<circle cx="626.54" cy="533.23" r="4.6" fill="none" stroke="#0000ff" stroke-width="2.3"/>
<circle cx="627.61" cy="533.48" r="4.6" fill="none" stroke="#0000ff" stroke-width="2.3"/>
<circle cx="628.68" cy="533.74" r="4.6" fill="none" stroke="#0000ff" stroke-width="2.3"/>
<circle cx="629.76" cy="534.00" r="4.6" fill="none" stroke="#0000ff" stroke-width="2.3"/>
<circle cx="630.83" cy="534.28" r="4.6" fill="none" stroke="#0000ff" stroke-width="2.3"/>
<circle cx="631.90" cy="534.56" r="4.6" fill="none" stroke="#0000ff" stroke-width="2.3"/>
<circle cx="632.97" cy="534.85" r="4.6" fill="none" stroke="#0000ff" stroke-width="2.3"/>
<circle cx="634.04" cy="535.16" r="4.6" fill="none" stroke="#0000ff" stroke-width="2.3"/>
<circle cx="635.12" cy="535.48" r="4.6" fill="none" stroke="#0000ff" stroke-width="2.3"/>
<circle cx="636.19" cy="535.80" r="4.6" fill="none" stroke="#0000ff" stroke-width="2.3"/>
<circle cx="637.26" cy="536.14" r="4.6" fill="none" stroke="#0000ff" stroke-width="2.3"/>
<circle cx="638.33" cy="536.50" r="4.6" fill="none" stroke="#0000ff" stroke-width="2.3"/>
<circle cx="639.40" cy="536.86" r="4.6" fill="none" stroke="#0000ff" stroke-width="2.3"/>
<circle cx="640.48" cy="537.24" r="4.6" fill="none" stroke="#0000ff" stroke-width="2.3"/>
<circle cx="641.55" cy="537.63" r="4.6" fill="none" stroke="#0000ff" stroke-width="2.3"/>
<circle cx="642.62" cy="538.03" r="4.6" fill="none" stroke="#0000ff" stroke-width="2.3"/>
<circle cx="643.69" cy="538.45" r="4.6" fill="none" stroke="#0000ff" stroke-width="2.3"/>
<circle cx="644.76" cy="538.88" r="4.6" fill="none" stroke="#0000ff" stroke-width="2.3"/>
<circle cx="645.84" cy="539.33" r="4.6" fill="none" stroke="#0000ff" stroke-width="2.3"/>
<circle cx="646.91" cy="539.81" r="4.6" fill="none" stroke="#0000ff" stroke-width="2.3"/>
<circle cx="647.98" cy="540.32" r="4.6" fill="none" stroke="#0000ff" stroke-width="2.3"/>
<circle cx="649.05" cy="540.86" r="4.6" fill="none" stroke="#0000ff" stroke-width="2.3"/>
<circle cx="650.12" cy="541.42" r="4.6" fill="none" stroke="#0000ff" stroke-width="2.3"/>
<circle cx="651.20" cy="541.99" r="4.6" fill="none" stroke="#0000ff" stroke-width="2.3"/>
<circle cx="652.27" cy="542.59" r="4.6" fill="none" stroke="#0000ff" stroke-width="2.3"/>
<circle cx="653.34" cy="543.20" r="4.6" fill="none" stroke="#0000ff" stroke-width="2.3"/>
<circle cx="654.41" cy="543.82" r="4.6" fill="none" stroke="#0000ff" stroke-width="2.3"/>
<circle cx="655.48" cy="544.45" r="4.6" fill="none" stroke="#0000ff" stroke-width="2.3"/>
<circle cx="656.56" cy="545.09" r="4.6" fill="none" stroke="#0000ff" stroke-width="2.3"/>
<circle cx="657.63" cy="545.72" r="4.6" fill="none" stroke="#0000ff" stroke-width="2.3"/>
<circle cx="658.70" cy="546.36" r="4.6" fill="none" stroke="#0000ff" stroke-width="2.3"/>
<circle cx="659.77" cy="546.99" r="4.6" fill="none" stroke="#0000ff" stroke-width="2.3"/>
<circle cx="660.84" cy="547.64" r="4.6" fill="none" stroke="#0000ff" stroke-width="2.3"/>
<circle cx="661.92" cy="548.29" r="4.6" fill="none" stroke="#0000ff" stroke-width="2.3"/>
<circle cx="662.99" cy="548.96" r="4.6" fill="none" stroke="#0000ff" stroke-width="2.3"/>
<circle cx="664.06" cy="549.64" r="4.6" fill="none" stroke="#0000ff" stroke-width="2.3"/>
<circle cx="665.13" cy="550.32" r="4.6" fill="none" stroke="#0000ff" stroke-width="2.3"/>
<circle cx="666.20" cy="551.02" r="4.6" fill="none" stroke="#0000ff" stroke-width="2.3"/>
<circle cx="667.28" cy="551.72" r="4.6" fill="none" stroke="#0000ff" stroke-width="2.3"/>
<circle cx="668.35" cy="552.44" r="4.6" fill="none" stroke="#0000ff" stroke-width="2.3"/>
<circle cx="669.42" cy="553.16" r="4.6" fill="none" stroke="#0000ff" stroke-width="2.3"/>
<circle cx="670.49" cy="553.89" r="4.6" fill="none" stroke="#0000ff" stroke-width="2.3"/>
<circle cx="671.56" cy="554.63" r="4.6" fill="none" stroke="#0000ff" stroke-width="2.3"/>
<circle cx="474.50" cy="534.30" r="4.8" fill="none" stroke="#0000ff" stroke-width="2.6"/>
<circle cx="475.80" cy="510.10" r="4.8" fill="none" stroke="#0000ff" stroke-width="2.6"/>
<circle cx="481.30" cy="501.10" r="4.8" fill="none" stroke="#0000ff" stroke-width="2.6"/>
<circle cx="481.30" cy="495.70" r="4.8" fill="none" stroke="#0000ff" stroke-width="2.6"/>
<circle cx="474.90" cy="486.60" r="4.8" fill="none" stroke="#0000ff" stroke-width="2.6"/>
<circle cx="481.30" cy="483.00" r="4.8" fill="none" stroke="#0000ff" stroke-width="2.6"/>
<circle cx="480.40" cy="471.20" r="4.8" fill="none" stroke="#0000ff" stroke-width="2.6"/>
<circle cx="480.40" cy="457.60" r="4.8" fill="none" stroke="#0000ff" stroke-width="2.6"/>
<circle cx="474.90" cy="446.70" r="4.8" fill="none" stroke="#0000ff" stroke-width="2.6"/>
<circle cx="480.40" cy="440.40" r="4.8" fill="none" stroke="#0000ff" stroke-width="2.6"/>
<circle cx="478.00" cy="420.50" r="4.8" fill="none" stroke="#0000ff" stroke-width="2.6"/>
<circle cx="476.50" cy="419.00" r="4.8" fill="none" stroke="#0000ff" stroke-width="2.6"/>
<circle cx="478.50" cy="396.10" r="4.8" fill="none" stroke="#0000ff" stroke-width="2.6"/>
<circle cx="476.50" cy="389.80" r="4.8" fill="none" stroke="#0000ff" stroke-width="2.6"/>
<circle cx="478.00" cy="371.70" r="4.8" fill="none" stroke="#0000ff" stroke-width="2.6"/>
<circle cx="477.50" cy="363.00" r="4.8" fill="none" stroke="#0000ff" stroke-width="2.6"/>
<circle cx="478.50" cy="352.00" r="4.8" fill="none" stroke="#0000ff" stroke-width="2.6"/>
<circle cx="477.80" cy="347.30" r="4.8" fill="none" stroke="#0000ff" stroke-width="2.6"/>
<circle cx="477.80" cy="345.00" r="4.8" fill="none" stroke="#0000ff" stroke-width="2.6"/>
<circle cx="477.80" cy="341.80" r="4.8" fill="none" stroke="#0000ff" stroke-width="2.6"/>
<circle cx="481.50" cy="512.00" r="4.8" fill="none" stroke="#0000ff" stroke-width="2.6"/>
<circle cx="482.50" cy="516.00" r="4.8" fill="none" stroke="#0000ff" stroke-width="2.6"/>
<circle cx="483.50" cy="519.00" r="4.8" fill="none" stroke="#0000ff" stroke-width="2.6"/>
<circle cx="485.00" cy="521.00" r="4.8" fill="none" stroke="#0000ff" stroke-width="2.6"/>
</g>
<path d="M401.98,316.75 H674.98 M401.98,572.75 H674.98" stroke="#000" stroke-width="4.55" fill="none"/>
<path d="M404.10,314.48 V575.02 M672.85,314.48 V575.02" stroke="#000" stroke-width="4.25" fill="none"/>
<line x1="404.00" y1="555.00" x2="408.00" y2="555.00" stroke="#000" stroke-width="3.9" />
<line x1="404.00" y1="518.37" x2="408.00" y2="518.37" stroke="#000" stroke-width="3.9" />
<line x1="404.00" y1="481.74" x2="408.00" y2="481.74" stroke="#000" stroke-width="3.9" />
<line x1="404.00" y1="445.11" x2="408.00" y2="445.11" stroke="#000" stroke-width="3.9" />
<line x1="404.00" y1="408.48" x2="408.00" y2="408.48" stroke="#000" stroke-width="3.9" />
<line x1="404.00" y1="371.85" x2="408.00" y2="371.85" stroke="#000" stroke-width="3.9" />
<line x1="404.00" y1="335.22" x2="408.00" y2="335.22" stroke="#000" stroke-width="3.9" />
<line x1="404.10" y1="572.75" x2="404.10" y2="569.05" stroke="#000" stroke-width="3.9" />
<line x1="457.70" y1="572.75" x2="457.70" y2="569.05" stroke="#000" stroke-width="3.9" />
<line x1="511.30" y1="572.75" x2="511.30" y2="569.05" stroke="#000" stroke-width="3.9" />
<line x1="564.90" y1="572.75" x2="564.90" y2="569.05" stroke="#000" stroke-width="3.9" />
<line x1="618.50" y1="572.75" x2="618.50" y2="569.05" stroke="#000" stroke-width="3.9" />
<line x1="672.10" y1="572.75" x2="672.10" y2="569.05" stroke="#000" stroke-width="3.9" />
<text transform="translate(374.15 563.03) scale(0.9046 1)" font-family="'Liberation Serif', serif" font-size="23.43" fill="#000" style="" stroke="#fff" stroke-width="0.3">0.0</text>
<text transform="translate(374.14 526.41) scale(0.9340 1)" font-family="'Liberation Serif', serif" font-size="23.09" fill="#000" style="" stroke="#fff" stroke-width="0.3">0.1</text>
<text transform="translate(374.14 489.77) scale(0.9203 1)" font-family="'Liberation Serif', serif" font-size="23.43" fill="#000" style="" stroke="#fff" stroke-width="0.3">0.2</text>
<text transform="translate(374.15 453.14) scale(0.9046 1)" font-family="'Liberation Serif', serif" font-size="23.43" fill="#000" style="" stroke="#fff" stroke-width="0.3">0.3</text>
<text transform="translate(374.17 416.51) scale(0.8894 1)" font-family="'Liberation Serif', serif" font-size="23.43" fill="#000" style="" stroke="#fff" stroke-width="0.3">0.4</text>
<text transform="translate(374.15 379.88) scale(0.9046 1)" font-family="'Liberation Serif', serif" font-size="23.43" fill="#000" style="" stroke="#fff" stroke-width="0.3">0.5</text>
<text transform="translate(374.16 343.25) scale(0.8969 1)" font-family="'Liberation Serif', serif" font-size="23.43" fill="#000" style="" stroke="#fff" stroke-width="0.3">0.6</text>
<text transform="translate(390.96 593.01) scale(0.8590 1)" font-family="'Liberation Serif', serif" font-size="24.48" fill="#000" style="" stroke="#fff" stroke-width="0.3">0.0</text>
<text transform="translate(444.54 593.01) scale(0.8739 1)" font-family="'Liberation Serif', serif" font-size="24.48" fill="#000" style="" stroke="#fff" stroke-width="0.3">0.2</text>
<text transform="translate(498.17 593.01) scale(0.8445 1)" font-family="'Liberation Serif', serif" font-size="24.48" fill="#000" style="" stroke="#fff" stroke-width="0.3">0.4</text>
<text transform="translate(551.77 593.01) scale(0.8517 1)" font-family="'Liberation Serif', serif" font-size="24.48" fill="#000" style="" stroke="#fff" stroke-width="0.3">0.6</text>
<text transform="translate(605.36 593.01) scale(0.8590 1)" font-family="'Liberation Serif', serif" font-size="24.48" fill="#000" style="" stroke="#fff" stroke-width="0.3">0.8</text>
<text transform="translate(657.82 593.02) scale(0.9107 1)" font-family="'Liberation Serif', serif" font-size="24.12" fill="#000" style="" stroke="#fff" stroke-width="0.3">1.0</text>
<text transform="translate(411.92 345.79) scale(0.8602 1)" font-family="'Liberation Sans', sans-serif" font-size="28.62" fill="#000" style="" >(</text>
<text transform="translate(421.97 343.96) scale(0.8449 1)" font-family="'Liberation Sans', sans-serif" font-size="24.46" fill="#000" style="" >d</text>
<text transform="translate(435.55 345.79) scale(0.8870 1)" font-family="'Liberation Sans', sans-serif" font-size="28.62" fill="#000" style="" >)</text>
<text transform="translate(363.83 459.88) rotate(-90) scale(1.0718 1)" font-family="'Liberation Serif', serif" font-size="27.29" fill="#000" style="font-style:italic;" >c</text>
<text transform="translate(367.81 448.73) rotate(-90) scale(0.9491 1)" font-family="'Liberation Serif', serif" font-size="19.17" fill="#000" style="" >eff</text>
<text transform="translate(532.32 620.60) scale(1.0990 1)" font-family="'Liberation Serif', serif" font-size="28.14" fill="#000" style="font-style:italic;" >λ</text>
<text transform="translate(409.44 437.61) scale(1.1458 1)" font-family="'Liberation Serif', serif" font-size="19.17" fill="#0000ff" style="font-style:italic;" >α</text>
<line x1="428.00" y1="430.60" x2="441.30" y2="430.60" stroke="#0000ff" stroke-width="1.0" />
<line x1="428.00" y1="434.70" x2="441.30" y2="434.70" stroke="#0000ff" stroke-width="1.0" />
<text transform="translate(446.62 437.58) scale(0.9328 1)" font-family="'Liberation Serif', serif" font-size="20.90" fill="#0000ff" style="" >0.6</text>
<path d="M432.10,422.30 L470.90,408.70 M466.82,416.09 Q469.22,410.24 470.90,408.70 Q468.62,408.55 463.09,405.48" fill="none" stroke="#0000ff" stroke-width="1.3" stroke-linecap="round"/>
<text transform="translate(409.31 505.09) scale(1.1106 1)" font-family="'Liberation Serif', serif" font-size="20.83" fill="#087a62" style="font-style:italic;" >α</text>
<line x1="426.80" y1="498.30" x2="441.10" y2="498.30" stroke="#087a62" stroke-width="1.0" />
<line x1="426.80" y1="503.20" x2="441.10" y2="503.20" stroke="#087a62" stroke-width="1.0" />
<text transform="translate(446.83 505.75) scale(0.8645 1)" font-family="'Liberation Serif', serif" font-size="22.54" fill="#087a62" style="" >3.0</text>
<path d="M431.80,490.20 L514.10,462.60 M509.92,469.94 Q512.40,464.12 514.10,462.60 Q511.82,462.41 506.34,459.27" fill="none" stroke="#087a62" stroke-width="1.3" stroke-linecap="round"/>
<rect x="565.3" y="330" width="94.1" height="88.5" fill="#fff"/>
<clipPath id="ic"><rect x="565.3" y="330" width="94.1" height="88.5"/></clipPath>
<g clip-path="url(#ic)">
<polygon points="565.05,339.05 571.55,346.05 565.05,353.05 558.55,346.05" fill="none" stroke="#c8c8c8" stroke-width="2"/>
<polygon points="578.50,341.35 585.00,348.35 578.50,355.35 572.00,348.35" fill="none" stroke="#c8c8c8" stroke-width="2"/>
<polygon points="591.95,344.47 598.45,351.47 591.95,358.47 585.45,351.47" fill="none" stroke="#c8c8c8" stroke-width="2"/>
<polygon points="605.40,349.07 611.90,356.07 605.40,363.07 598.90,356.07" fill="none" stroke="#c8c8c8" stroke-width="2"/>
<polygon points="618.85,355.15 625.35,362.15 618.85,369.15 612.35,362.15" fill="none" stroke="#c8c8c8" stroke-width="2"/>
<polygon points="632.30,364.36 638.80,371.36 632.30,378.36 625.80,371.36" fill="none" stroke="#c8c8c8" stroke-width="2"/>
<polygon points="645.75,379.05 652.25,386.05 645.75,393.05 639.25,386.05" fill="none" stroke="#c8c8c8" stroke-width="2"/>
<polygon points="659.20,396.56 665.70,403.56 659.20,410.56 652.70,403.56" fill="none" stroke="#c8c8c8" stroke-width="2"/>
<polyline points="565.05,346.80 578.50,349.10 591.95,352.21 605.40,356.81 618.85,362.90 632.30,372.10 645.75,386.79 659.20,404.30" fill="none" stroke="#a52a2a" stroke-width="2.0" stroke-dasharray="6,3" stroke-linejoin="round" />
<polygon points="567.88,346.80 570.26,349.18 567.44,352.01 565.05,349.62 562.66,352.01 559.84,349.18 562.22,346.80 559.84,344.41 562.66,341.58 565.05,343.97 567.44,341.58 570.26,344.41" fill="#fff" stroke="#a52a2a" stroke-width="2.7"/>
<polygon points="581.33,349.10 583.71,351.48 580.89,354.31 578.50,351.92 576.11,354.31 573.29,351.48 575.67,349.10 573.29,346.71 576.11,343.88 578.50,346.27 580.89,343.88 583.71,346.71" fill="#fff" stroke="#a52a2a" stroke-width="2.7"/>
<polygon points="594.78,352.21 597.16,354.60 594.34,357.43 591.95,355.04 589.56,357.43 586.74,354.60 589.12,352.21 586.74,349.83 589.56,347.00 591.95,349.38 594.34,347.00 597.16,349.83" fill="#fff" stroke="#a52a2a" stroke-width="2.7"/>
<polygon points="608.23,356.81 610.61,359.20 607.79,362.03 605.40,359.64 603.01,362.03 600.19,359.20 602.57,356.81 600.19,354.43 603.01,351.60 605.40,353.98 607.79,351.60 610.61,354.43" fill="#fff" stroke="#a52a2a" stroke-width="2.7"/>
<polygon points="621.68,362.90 624.06,365.28 621.24,368.11 618.85,365.72 616.46,368.11 613.64,365.28 616.02,362.90 613.64,360.51 616.46,357.68 618.85,360.07 621.24,357.68 624.06,360.51" fill="#fff" stroke="#a52a2a" stroke-width="2.7"/>
<polygon points="635.13,372.10 637.51,374.48 634.69,377.31 632.30,374.93 629.91,377.31 627.09,374.48 629.47,372.10 627.09,369.71 629.91,366.88 632.30,369.27 634.69,366.88 637.51,369.71" fill="#fff" stroke="#a52a2a" stroke-width="2.7"/>
<polygon points="648.58,386.79 650.96,389.17 648.14,392.00 645.75,389.62 643.36,392.00 640.54,389.17 642.92,386.79 640.54,384.40 643.36,381.57 645.75,383.96 648.14,381.57 650.96,384.40" fill="#fff" stroke="#a52a2a" stroke-width="2.7"/>
<polygon points="662.03,404.30 664.41,406.69 661.59,409.51 659.20,407.13 656.81,409.51 653.99,406.69 656.37,404.30 653.99,401.91 656.81,399.09 659.20,401.47 661.59,399.09 664.41,401.91" fill="#fff" stroke="#a52a2a" stroke-width="2.7"/>
<polyline points="565.05,346.80 578.50,349.10 591.95,352.21 605.40,356.81 618.85,362.90 632.30,372.10 645.75,386.79 659.20,404.30" fill="none" stroke="#0000ff" stroke-width="2.2" stroke-dasharray="6,3" stroke-linejoin="round" />
<circle cx="565.05" cy="346.80" r="4.9" fill="none" stroke="#0000ff" stroke-width="2.5"/>
<circle cx="578.50" cy="349.10" r="4.9" fill="none" stroke="#0000ff" stroke-width="2.5"/>
<circle cx="591.95" cy="352.21" r="4.9" fill="none" stroke="#0000ff" stroke-width="2.5"/>
<circle cx="605.40" cy="356.81" r="4.9" fill="none" stroke="#0000ff" stroke-width="2.5"/>
<circle cx="618.85" cy="362.90" r="4.9" fill="none" stroke="#0000ff" stroke-width="2.5"/>
<circle cx="632.30" cy="372.10" r="4.9" fill="none" stroke="#0000ff" stroke-width="2.5"/>
<circle cx="645.75" cy="386.79" r="4.9" fill="none" stroke="#0000ff" stroke-width="2.5"/>
<circle cx="659.20" cy="404.30" r="4.9" fill="none" stroke="#0000ff" stroke-width="2.5"/>
</g>
<rect x="565.3" y="330" width="94.10" height="88.50" fill="none" stroke="#000" stroke-width="2.4"/>
<line x1="565.30" y1="404.30" x2="568.80" y2="404.30" stroke="#000" stroke-width="2.4" />
<line x1="565.30" y1="367.20" x2="568.80" y2="367.20" stroke="#000" stroke-width="2.4" />
<line x1="565.30" y1="330.10" x2="568.80" y2="330.10" stroke="#000" stroke-width="2.4" />
<line x1="578.50" y1="418.50" x2="578.50" y2="415.00" stroke="#000" stroke-width="2.4" />
<line x1="605.40" y1="418.50" x2="605.40" y2="415.00" stroke="#000" stroke-width="2.4" />
<line x1="632.30" y1="418.50" x2="632.30" y2="415.00" stroke="#000" stroke-width="2.4" />
<line x1="659.20" y1="418.50" x2="659.20" y2="415.00" stroke="#000" stroke-width="2.4" />
<text transform="translate(533.87 335.41) scale(1.0668 1)" font-family="'Liberation Serif', serif" font-size="14.71" fill="#000" style="" >0.10</text>
<text transform="translate(533.87 372.41) scale(1.0836 1)" font-family="'Liberation Serif', serif" font-size="14.48" fill="#000" style="" >0.05</text>
<text transform="translate(533.87 409.51) scale(1.0836 1)" font-family="'Liberation Serif', serif" font-size="14.48" fill="#000" style="" >0.00</text>
<text transform="translate(568.66 433.80) scale(1.0897 1)" font-family="'Liberation Serif', serif" font-size="14.78" fill="#000" style="" >0.7</text>
<text transform="translate(595.67 433.80) scale(1.0585 1)" font-family="'Liberation Serif', serif" font-size="14.78" fill="#000" style="" >0.8</text>
<text transform="translate(622.36 433.80) scale(1.0759 1)" font-family="'Liberation Serif', serif" font-size="14.78" fill="#000" style="" >0.9</text>
<text transform="translate(648.80 433.81) scale(1.1468 1)" font-family="'Liberation Serif', serif" font-size="14.56" fill="#000" style="" >1.0</text>
<text transform="translate(607.04 456.30) scale(1.3046 1)" font-family="'Liberation Serif', serif" font-size="20.86" fill="#000" style="font-style:italic;" >λ</text>
<text transform="translate(572.36 411.62) scale(1.1658 1)" font-family="'Liberation Serif', serif" font-size="18.33" fill="#000" style="font-style:italic;" >α</text>
<line x1="590.50" y1="405.00" x2="603.60" y2="405.00" stroke="#000" stroke-width="1.0" />
<line x1="590.50" y1="409.80" x2="603.60" y2="409.80" stroke="#000" stroke-width="1.0" />
<text transform="translate(609.41 412.09) scale(0.9518 1)" font-family="'Liberation Serif', serif" font-size="20.75" fill="#000" style="" >0.6</text>
<rect x="579.40" y="459.90" width="87.10" height="59.20" rx="4" ry="4" fill="#fff" fill-opacity="0.85" stroke="#d2d2d2" stroke-width="1.35"/>
<polygon points="597.9,462.9 604.8,470.0 597.9,477.1 591.0,470.0" fill="#fff" stroke="#c8c8c8" stroke-width="1.9"/>
<line x1="584.80" y1="470.00" x2="593.50" y2="470.00" stroke="#c8c8c8" stroke-width="2" />
<line x1="596.20" y1="470.00" x2="604.50" y2="470.00" stroke="#c8c8c8" stroke-width="2" />
<line x1="608.00" y1="470.00" x2="611.50" y2="470.00" stroke="#c8c8c8" stroke-width="2" />
<polygon points="601.07,488.40 604.08,491.42 601.12,494.38 598.10,491.37 595.08,494.38 592.12,491.42 595.13,488.40 592.12,485.38 595.08,482.42 598.10,485.43 601.12,482.42 604.08,485.38" fill="#fff" stroke="#a52a2a" stroke-width="2.5" stroke-linejoin="miter"/>
<line x1="584.80" y1="488.40" x2="605.00" y2="488.40" stroke="#a52a2a" stroke-width="2.2" />
<line x1="608.00" y1="488.40" x2="611.50" y2="488.40" stroke="#a52a2a" stroke-width="2.2" />
<circle cx="598.60" cy="507.00" r="5.0" fill="#fff" stroke="#0000ff" stroke-width="2.5"/>
<line x1="584.80" y1="507.00" x2="605.00" y2="507.00" stroke="#0000ff" stroke-width="2.2" />
<line x1="608.00" y1="507.00" x2="611.50" y2="507.00" stroke="#0000ff" stroke-width="2.2" />
<text transform="translate(622.75 474.60) scale(1.1063 1)" font-family="'Liberation Serif', serif" font-size="13.38" fill="#000" style="font-style:italic;" >L</text>
<line x1="634.90" y1="470.05" x2="644.10" y2="470.05" stroke="#000" stroke-width="0.9" />
<line x1="634.90" y1="472.85" x2="644.10" y2="472.85" stroke="#000" stroke-width="0.9" />
<text transform="translate(648.07 474.84) scale(1.0159 1)" font-family="'Liberation Serif', serif" font-size="12.99" fill="#000" style="" >64</text>
<text transform="translate(622.75 492.90) scale(1.1063 1)" font-family="'Liberation Serif', serif" font-size="13.38" fill="#000" style="font-style:italic;" >L</text>
<line x1="634.90" y1="488.35" x2="644.10" y2="488.35" stroke="#000" stroke-width="0.9" />
<line x1="634.90" y1="491.15" x2="644.10" y2="491.15" stroke="#000" stroke-width="0.9" />
<text transform="translate(648.06 493.14) scale(1.0380 1)" font-family="'Liberation Serif', serif" font-size="12.99" fill="#000" style="" >80</text>
<text transform="translate(622.75 511.20) scale(1.1063 1)" font-family="'Liberation Serif', serif" font-size="13.38" fill="#000" style="font-style:italic;" >L</text>
<line x1="634.90" y1="506.65" x2="644.10" y2="506.65" stroke="#000" stroke-width="0.9" />
<line x1="634.90" y1="509.45" x2="644.10" y2="509.45" stroke="#000" stroke-width="0.9" />
<text transform="translate(648.20 511.44) scale(1.0159 1)" font-family="'Liberation Serif', serif" font-size="12.99" fill="#000" style="" >96</text>
</svg></body></html>
